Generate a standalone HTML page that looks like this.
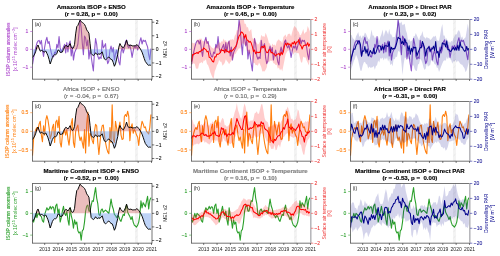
<!DOCTYPE html><html><head><meta charset="utf-8"><title>ISOP anomalies</title>
<style>html,body{margin:0;padding:0;background:#fff;overflow:hidden}svg{display:block;will-change:transform;opacity:0.999}text{font-family:'Liberation Sans', Arial, sans-serif}</style></head><body>
<svg width="500" height="256" viewBox="0 0 500 256">
<rect width="500" height="256" fill="#fff"/>
<g>
<clipPath id="c1"><rect x="32.50" y="19.50" width="119.50" height="59.70"/></clipPath>
<g clip-path="url(#c1)">
<rect x="135.00" y="19.50" width="2.9" height="59.70" fill="#f3f3f3"/>
<path d="M135.50 24.00l1.9 -2.6M135.50 30.30l1.9 -2.6M135.50 36.60l1.9 -2.6M135.50 42.90l1.9 -2.6M135.50 49.20l1.9 -2.6M135.50 55.50l1.9 -2.6M135.50 61.80l1.9 -2.6M135.50 68.10l1.9 -2.6M135.50 74.40l1.9 -2.6M135.50 80.70l1.9 -2.6" stroke="#e6e6e6" stroke-width="0.7" fill="none"/>
<path d="M32.50 64.36L33.61 57.93L34.71 52.03L35.82 47.03L36.93 43.09L38.03 40.95L39.14 40.41L40.25 43.99L41.35 40.41L42.46 50.06L43.56 56.50L44.67 47.03L45.78 40.95L46.88 37.37L47.99 43.45L49.10 41.49L50.20 47.92L51.31 52.92L52.42 56.50L53.52 57.04L54.63 52.03L55.74 53.46L56.84 44.35L57.95 47.92L59.06 36.48L60.16 47.92L61.27 52.39L62.38 49.53L63.48 47.03L64.59 44.35L65.69 52.92L66.80 42.56L67.91 52.03L69.01 43.99L70.12 40.95L71.23 55.96L72.33 47.03L73.44 60.07L74.55 52.92L75.65 50.06L76.76 47.92L77.87 43.99L78.97 33.26L80.08 19.68L81.19 27.90L82.29 43.09L83.40 54.71L84.51 35.94L85.61 38.09L86.72 45.95L87.83 40.06L88.93 59.00L90.04 50.06L91.14 55.96L92.25 64.01L93.36 70.98L94.46 52.03L95.57 38.63L96.68 43.99L97.78 55.96L98.89 59.18L100.00 57.04L101.10 58.47L102.21 40.41L103.32 47.92L104.42 45.95L105.53 43.63L106.64 57.93L107.74 63.65L108.85 60.97L109.95 50.06L111.06 46.13L112.17 52.03L113.27 47.56L114.38 60.07L115.49 54.00L116.59 50.06L117.70 55.07L118.81 61.86L119.91 64.90L121.02 52.03L122.13 47.03L123.23 52.92L124.34 48.99L125.45 42.02L126.55 39.88L127.66 45.95L128.77 47.92L129.87 45.06L130.98 50.06L132.09 57.39L133.19 51.14L134.30 45.95L135.40 47.92L136.51 45.42L137.62 50.06L138.72 45.95L139.83 41.31L140.94 37.73L142.04 43.99L143.15 40.06L144.26 41.31L145.36 40.41L146.47 43.99L147.58 46.85L148.68 54.71L149.79 59.72L150.90 48.64" fill="none" stroke="#9058cc" stroke-width="1.1" stroke-linejoin="round"/>
<path d="M32.50 49.35L33.61 49.35L34.71 49.35L35.82 49.35L36.93 46.84L38.03 44.98L39.14 48.17L40.25 49.35L41.35 49.35L42.46 49.35L43.56 49.35L44.67 49.35L45.78 49.35L46.88 49.35L47.99 49.35L49.10 49.35L50.20 49.35L51.31 49.35L52.42 49.35L53.52 49.35L54.63 49.35L55.74 49.35L56.84 49.35L57.95 49.35L59.06 49.35L60.16 49.35L61.27 49.35L62.38 49.35L63.48 49.35L64.59 46.97L65.69 45.36L66.80 45.77L67.91 47.04L69.01 45.35L70.12 43.65L71.23 46.79L72.33 48.43L73.44 47.84L74.55 44.34L75.65 33.88L76.76 26.58L77.87 25.45L78.97 22.79L80.08 20.15L81.19 21.69L82.29 22.45L83.40 23.30L84.51 24.38L85.61 26.65L86.72 29.90L87.83 31.47L88.93 33.17L90.04 43.31L91.14 49.35L92.25 49.35L93.36 49.35L94.46 49.35L95.57 49.35L96.68 49.35L97.78 49.35L98.89 49.35L100.00 49.35L101.10 49.35L102.21 49.35L103.32 49.35L104.42 49.35L105.53 49.35L106.64 49.35L107.74 49.35L108.85 49.35L109.95 49.35L111.06 49.35L112.17 49.35L113.27 49.35L114.38 49.35L115.49 49.35L116.59 49.35L117.70 49.35L118.81 47.24L119.91 43.51L121.02 45.66L122.13 46.99L123.23 47.83L124.34 46.24L125.45 43.81L126.55 40.12L127.66 43.92L128.77 45.55L129.87 45.31L130.98 45.08L132.09 45.87L133.19 45.92L134.30 45.73L135.40 46.09L136.51 44.63L137.62 45.14L138.72 46.50L139.83 48.05L140.94 49.35L142.04 49.35L143.15 49.35L144.26 49.35L145.36 49.35L146.47 49.35L147.58 49.35L148.68 49.35L149.79 49.35L150.90 49.35L150.90 49.35L32.50 49.35Z" fill="#cd5c5c" fill-opacity="0.4"/>
<path d="M32.50 57.63L33.61 55.86L34.71 54.10L35.82 51.19L36.93 49.35L38.03 49.35L39.14 49.35L40.25 51.25L41.35 50.44L42.46 50.67L43.56 51.96L44.67 51.91L45.78 50.98L46.88 53.24L47.99 55.79L49.10 59.53L50.20 64.00L51.31 60.88L52.42 57.44L53.52 55.57L54.63 54.67L55.74 54.73L56.84 53.70L57.95 50.11L59.06 50.19L60.16 52.45L61.27 52.26L62.38 52.06L63.48 49.35L64.59 49.35L65.69 49.35L66.80 49.35L67.91 49.35L69.01 49.35L70.12 49.35L71.23 49.35L72.33 49.35L73.44 49.35L74.55 49.35L75.65 49.35L76.76 49.35L77.87 49.35L78.97 49.35L80.08 49.35L81.19 49.35L82.29 49.35L83.40 49.35L84.51 49.35L85.61 49.35L86.72 49.35L87.83 49.35L88.93 49.35L90.04 49.35L91.14 53.42L92.25 54.78L93.36 55.55L94.46 54.69L95.57 52.74L96.68 54.28L97.78 54.52L98.89 53.63L100.00 54.40L101.10 52.97L102.21 51.80L103.32 56.05L104.42 59.00L105.53 59.92L106.64 58.80L107.74 57.75L108.85 56.96L109.95 58.39L111.06 59.41L112.17 59.81L113.27 62.55L114.38 66.28L115.49 63.94L116.59 59.16L117.70 54.77L118.81 49.35L119.91 49.35L121.02 49.35L122.13 49.35L123.23 49.35L124.34 49.35L125.45 49.35L126.55 49.35L127.66 49.35L128.77 49.35L129.87 49.35L130.98 49.35L132.09 49.35L133.19 49.35L134.30 49.35L135.40 49.35L136.51 49.35L137.62 49.35L138.72 49.35L139.83 49.35L140.94 49.96L142.04 52.11L143.15 55.24L144.26 58.62L145.36 61.59L146.47 63.02L147.58 64.63L148.68 65.34L149.79 65.02L150.90 65.29L150.90 49.35L32.50 49.35Z" fill="#6495ed" fill-opacity="0.42"/>
<path d="M32.50 57.63L33.61 55.86L34.71 54.10L35.82 51.19L36.93 46.84L38.03 44.98L39.14 48.17L40.25 51.25L41.35 50.44L42.46 50.67L43.56 51.96L44.67 51.91L45.78 50.98L46.88 53.24L47.99 55.79L49.10 59.53L50.20 64.00L51.31 60.88L52.42 57.44L53.52 55.57L54.63 54.67L55.74 54.73L56.84 53.70L57.95 50.11L59.06 50.19L60.16 52.45L61.27 52.26L62.38 52.06L63.48 49.35L64.59 46.97L65.69 45.36L66.80 45.77L67.91 47.04L69.01 45.35L70.12 43.65L71.23 46.79L72.33 48.43L73.44 47.84L74.55 44.34L75.65 33.88L76.76 26.58L77.87 25.45L78.97 22.79L80.08 20.15L81.19 21.69L82.29 22.45L83.40 23.30L84.51 24.38L85.61 26.65L86.72 29.90L87.83 31.47L88.93 33.17L90.04 43.31L91.14 53.42L92.25 54.78L93.36 55.55L94.46 54.69L95.57 52.74L96.68 54.28L97.78 54.52L98.89 53.63L100.00 54.40L101.10 52.97L102.21 51.80L103.32 56.05L104.42 59.00L105.53 59.92L106.64 58.80L107.74 57.75L108.85 56.96L109.95 58.39L111.06 59.41L112.17 59.81L113.27 62.55L114.38 66.28L115.49 63.94L116.59 59.16L117.70 54.77L118.81 47.24L119.91 43.51L121.02 45.66L122.13 46.99L123.23 47.83L124.34 46.24L125.45 43.81L126.55 40.12L127.66 43.92L128.77 45.55L129.87 45.31L130.98 45.08L132.09 45.87L133.19 45.92L134.30 45.73L135.40 46.09L136.51 44.63L137.62 45.14L138.72 46.50L139.83 48.05L140.94 49.96L142.04 52.11L143.15 55.24L144.26 58.62L145.36 61.59L146.47 63.02L147.58 64.63L148.68 65.34L149.79 65.02L150.90 65.29" fill="none" stroke="#000" stroke-width="0.95" stroke-linejoin="round"/>
</g>
<path d="M32.50 19.20V79.50" stroke="#000" stroke-width="0.55" fill="none"/>
<path d="M32.50 19.50H152.00" stroke="#000" stroke-width="0.55" fill="none"/>
<path d="M32.50 79.20H152.00" stroke="#000" stroke-width="0.55" fill="none"/>
<path d="M152.00 19.20V79.50" stroke="#000" stroke-width="0.55" fill="none"/>
<path d="M44.70 79.20v1.8" stroke="#000" stroke-width="0.5"/>
<path d="M58.05 79.20v1.8" stroke="#000" stroke-width="0.5"/>
<path d="M71.40 79.20v1.8" stroke="#000" stroke-width="0.5"/>
<path d="M84.75 79.20v1.8" stroke="#000" stroke-width="0.5"/>
<path d="M98.10 79.20v1.8" stroke="#000" stroke-width="0.5"/>
<path d="M111.45 79.20v1.8" stroke="#000" stroke-width="0.5"/>
<path d="M124.80 79.20v1.8" stroke="#000" stroke-width="0.5"/>
<path d="M138.15 79.20v1.8" stroke="#000" stroke-width="0.5"/>
<path d="M151.50 79.20v1.8" stroke="#000" stroke-width="0.5"/>
<path d="M32.50 31.48h-2.3" stroke="#ab45cc" stroke-width="0.55"/>
<text x="28.40" y="33.28" font-size="5" text-anchor="end" fill="#ab45cc" stroke="#ab45cc" stroke-width="0.1">1</text>
<path d="M32.50 49.35h-2.3" stroke="#ab45cc" stroke-width="0.55"/>
<text x="28.40" y="51.15" font-size="5" text-anchor="end" fill="#ab45cc" stroke="#ab45cc" stroke-width="0.1">0</text>
<path d="M32.50 67.22h-2.3" stroke="#ab45cc" stroke-width="0.55"/>
<text x="28.40" y="69.02" font-size="5" text-anchor="end" fill="#ab45cc" stroke="#ab45cc" stroke-width="0.1">−1</text>
<path d="M152.00 22.21h2.3" stroke="#000" stroke-width="0.55"/>
<text x="155.80" y="24.01" font-size="5" text-anchor="start" fill="#000" stroke="#000" stroke-width="0.08">2</text>
<path d="M152.00 35.78h2.3" stroke="#000" stroke-width="0.55"/>
<text x="155.80" y="37.58" font-size="5" text-anchor="start" fill="#000" stroke="#000" stroke-width="0.08">1</text>
<path d="M152.00 49.35h2.3" stroke="#000" stroke-width="0.55"/>
<text x="155.80" y="51.15" font-size="5" text-anchor="start" fill="#000" stroke="#000" stroke-width="0.08">0</text>
<path d="M152.00 62.92h2.3" stroke="#000" stroke-width="0.55"/>
<text x="155.80" y="64.72" font-size="5" text-anchor="start" fill="#000" stroke="#000" stroke-width="0.08">−1</text>
<path d="M152.00 76.49h2.3" stroke="#000" stroke-width="0.55"/>
<text x="155.80" y="78.29" font-size="5" text-anchor="start" fill="#000" stroke="#000" stroke-width="0.08">−2</text>
<text transform="translate(166.90 49.35) rotate(-90)" font-size="5" text-anchor="middle" fill="#111">MEI. v2</text>
<text transform="translate(9.80 49.35) rotate(-90)" font-size="5" text-anchor="middle" fill="#ab45cc" stroke="#ab45cc" stroke-width="0.1">ISOP column anomalies</text>
<text transform="translate(17.30 49.35) rotate(-90)" font-size="5" text-anchor="middle" fill="#ab45cc">[x 10<tspan dy="-2" font-size="3.9">15</tspan><tspan dy="2"> molec cm</tspan><tspan dy="-2" font-size="3.9">−2</tspan><tspan dy="2">]</tspan></text>
<text x="34.70" y="26.10" font-size="5" fill="#222">(a)</text>
<text x="91.25" y="9.40" font-size="6.1" font-weight="bold" text-anchor="middle" fill="#000" stroke="#000" stroke-width="0.15">Amazonia ISOP + ENSO</text>
<text x="91.25" y="16.30" font-size="6.1" font-weight="bold" text-anchor="middle" fill="#000" stroke="#000" stroke-width="0.15" xml:space="preserve">(r = 0.28, p =  0.00)</text>
</g>
<g>
<clipPath id="c2"><rect x="191.50" y="19.50" width="119.50" height="59.70"/></clipPath>
<g clip-path="url(#c2)">
<rect x="294.00" y="19.50" width="2.9" height="59.70" fill="#f3f3f3"/>
<path d="M294.50 24.00l1.9 -2.6M294.50 30.30l1.9 -2.6M294.50 36.60l1.9 -2.6M294.50 42.90l1.9 -2.6M294.50 49.20l1.9 -2.6M294.50 55.50l1.9 -2.6M294.50 61.80l1.9 -2.6M294.50 68.10l1.9 -2.6M294.50 74.40l1.9 -2.6M294.50 80.70l1.9 -2.6" stroke="#e6e6e6" stroke-width="0.7" fill="none"/>
<path d="M191.50 64.36L192.61 57.93L193.71 52.03L194.82 47.03L195.93 43.09L197.03 40.95L198.14 40.41L199.25 43.99L200.35 40.41L201.46 50.06L202.56 56.50L203.67 47.03L204.78 40.95L205.88 37.37L206.99 43.45L208.10 41.49L209.20 47.92L210.31 52.92L211.42 56.50L212.52 57.04L213.63 52.03L214.74 53.46L215.84 44.35L216.95 47.92L218.06 36.48L219.16 47.92L220.27 52.39L221.38 49.53L222.48 47.03L223.59 44.35L224.69 52.92L225.80 42.56L226.91 52.03L228.01 43.99L229.12 40.95L230.23 55.96L231.33 47.03L232.44 60.07L233.55 52.92L234.65 50.06L235.76 47.92L236.87 43.99L237.97 33.26L239.08 19.68L240.19 27.90L241.29 43.09L242.40 54.71L243.51 35.94L244.61 38.09L245.72 45.95L246.82 40.06L247.93 59.00L249.04 50.06L250.14 55.96L251.25 64.01L252.36 70.98L253.46 52.03L254.57 38.63L255.68 43.99L256.78 55.96L257.89 59.18L259.00 57.04L260.10 58.47L261.21 40.41L262.32 47.92L263.42 45.95L264.53 43.63L265.64 57.93L266.74 63.65L267.85 60.97L268.95 50.06L270.06 46.13L271.17 52.03L272.27 47.56L273.38 60.07L274.49 54.00L275.59 50.06L276.70 55.07L277.81 61.86L278.91 64.90L280.02 52.03L281.13 47.03L282.23 52.92L283.34 48.99L284.45 42.02L285.55 39.88L286.66 45.95L287.77 47.92L288.87 45.06L289.98 50.06L291.09 57.39L292.19 51.14L293.30 45.95L294.40 47.92L295.51 45.42L296.62 50.06L297.72 45.95L298.83 41.31L299.94 37.73L301.04 43.99L302.15 40.06L303.26 41.31L304.36 40.41L305.47 43.99L306.58 46.85L307.68 54.71L308.79 59.72L309.90 48.64" fill="none" stroke="#9058cc" stroke-width="1.1" stroke-linejoin="round"/>
<path d="M191.50 43.10L192.61 42.41L193.71 43.58L194.82 42.82L195.93 45.08L197.03 39.16L198.14 40.15L199.25 38.85L200.35 38.78L201.46 38.60L202.56 41.18L203.67 40.96L204.78 41.71L205.88 38.27L206.99 40.80L208.10 41.76L209.20 45.11L210.31 45.51L211.42 47.24L212.52 47.95L213.63 48.76L214.74 47.23L215.84 46.65L216.95 45.19L218.06 44.33L219.16 41.98L220.27 43.29L221.38 41.20L222.48 41.84L223.59 38.57L224.69 40.95L225.80 40.15L226.91 42.37L228.01 41.87L229.12 40.95L230.23 39.62L231.33 39.86L232.44 39.03L233.55 40.31L234.65 35.95L235.76 34.19L236.87 29.90L237.97 30.54L239.08 22.94L240.19 20.31L241.29 17.34L242.40 16.79L243.51 18.03L244.61 23.68L245.72 23.82L246.82 27.51L247.93 27.07L249.04 31.66L250.14 30.16L251.25 29.04L252.36 38.01L253.46 38.96L254.57 37.13L255.68 41.39L256.78 42.83L257.89 44.77L259.00 43.45L260.10 41.19L261.21 34.64L262.32 36.57L263.42 36.19L264.53 36.97L265.64 32.65L266.74 35.48L267.85 38.80L268.95 43.14L270.06 43.48L271.17 47.68L272.27 43.41L273.38 45.31L274.49 44.46L275.59 45.97L276.70 41.74L277.81 40.22L278.91 39.15L280.02 40.97L281.13 41.30L282.23 43.51L283.34 36.90L284.45 35.71L285.55 34.51L286.66 37.60L287.77 34.28L288.87 33.83L289.98 33.72L291.09 36.45L292.19 32.05L293.30 28.36L294.40 25.91L295.51 26.91L296.62 28.56L297.72 30.95L298.83 32.06L299.94 35.51L301.04 34.80L302.15 32.20L303.26 28.98L304.36 34.11L305.47 32.13L306.58 31.66L307.68 25.90L308.79 28.46L309.90 31.67L309.90 57.52L308.79 65.39L307.68 62.85L306.58 60.42L305.47 57.36L304.36 57.44L303.26 56.60L302.15 62.48L301.04 62.51L299.94 58.07L298.83 53.27L297.72 53.18L296.62 52.72L295.51 52.54L294.40 52.52L293.30 54.70L292.19 51.05L291.09 51.82L289.98 49.54L288.87 50.41L287.77 50.64L286.66 52.53L285.55 54.65L284.45 60.55L283.34 66.09L282.23 71.49L281.13 68.51L280.02 70.46L278.91 67.58L277.81 68.71L276.70 64.66L275.59 64.93L274.49 63.40L273.38 63.20L272.27 60.25L271.17 60.88L270.06 60.51L268.95 62.82L267.85 61.15L266.74 67.52L265.64 69.82L264.53 71.57L263.42 71.32L262.32 71.53L261.21 67.11L260.10 64.38L259.00 62.57L257.89 65.69L256.78 65.01L255.68 65.17L254.57 62.91L253.46 63.19L252.36 59.63L251.25 54.37L250.14 53.07L249.04 53.21L247.93 51.08L246.82 50.56L245.72 44.79L244.61 45.12L243.51 43.44L242.40 43.30L241.29 45.30L240.19 48.89L239.08 47.96L237.97 49.99L236.87 51.22L235.76 53.78L234.65 54.01L233.55 57.28L232.44 58.93L231.33 61.07L230.23 62.23L229.12 64.21L228.01 62.14L226.91 60.98L225.80 59.33L224.69 62.89L223.59 64.41L222.48 65.87L221.38 61.81L220.27 61.82L219.16 59.83L218.06 63.48L216.95 65.24L215.84 68.83L214.74 71.55L213.63 78.76L212.52 77.59L211.42 74.90L210.31 72.36L209.20 68.35L208.10 65.24L206.99 64.06L205.88 59.30L204.78 60.87L203.67 60.59L202.56 63.39L201.46 61.96L200.35 62.89L199.25 63.60L198.14 68.55L197.03 68.68L195.93 68.56L194.82 64.01L193.71 63.19L192.61 64.03L191.50 64.97Z" fill="#ff0000" fill-opacity="0.20"/>
<path d="M191.50 61.76L192.61 54.51L193.71 54.65L194.82 53.36L195.93 53.40L197.03 52.32L198.14 53.55L199.25 51.57L200.35 51.86L201.46 49.94L202.56 50.27L203.67 47.91L204.78 48.90L205.88 49.58L206.99 51.89L208.10 51.13L209.20 57.33L210.31 57.74L211.42 59.45L212.52 61.61L213.63 62.04L214.74 56.77L215.84 57.01L216.95 53.94L218.06 54.43L219.16 53.66L220.27 52.71L221.38 49.48L222.48 50.54L223.59 50.28L224.69 52.49L225.80 49.19L226.91 51.60L228.01 51.30L229.12 52.78L230.23 50.32L231.33 51.42L232.44 50.28L233.55 49.25L234.65 47.69L235.76 46.60L236.87 43.41L237.97 39.64L239.08 35.96L240.19 34.57L241.29 32.03L242.40 32.45L243.51 34.25L244.61 38.03L245.72 34.60L246.82 39.90L247.93 40.30L249.04 42.37L250.14 41.40L251.25 43.08L252.36 46.69L253.46 51.59L254.57 50.03L255.68 53.78L256.78 51.85L257.89 52.67L259.00 52.19L260.10 52.39L261.21 47.01L262.32 46.46L263.42 47.62L264.53 45.49L265.64 50.39L266.74 52.62L267.85 52.53L268.95 49.91L270.06 49.58L271.17 52.87L272.27 52.32L273.38 53.95L274.49 53.93L275.59 55.95L276.70 54.22L277.81 54.34L278.91 53.30L280.02 55.53L281.13 52.05L282.23 54.63L283.34 51.82L284.45 46.08L285.55 43.11L286.66 45.34L287.77 42.99L288.87 44.69L289.98 43.85L291.09 47.19L292.19 42.69L293.30 43.92L294.40 41.41L295.51 44.48L296.62 41.92L297.72 41.97L298.83 39.63L299.94 44.60L301.04 45.88L302.15 48.99L303.26 45.96L304.36 45.31L305.47 44.99L306.58 45.26L307.68 42.73L308.79 46.22L309.90 43.80" fill="none" stroke="#ff0000" stroke-width="1.05" stroke-linejoin="round"/>
</g>
<path d="M191.50 19.20V79.50" stroke="#000" stroke-width="0.55" fill="none"/>
<path d="M191.50 19.50H311.00" stroke="#000" stroke-width="0.55" fill="none"/>
<path d="M191.50 79.20H311.00" stroke="#000" stroke-width="0.55" fill="none"/>
<path d="M310.80 19.20V79.50" stroke="#b4b4b8" stroke-width="1.5" fill="none"/>
<path d="M203.70 79.20v1.8" stroke="#000" stroke-width="0.5"/>
<path d="M217.05 79.20v1.8" stroke="#000" stroke-width="0.5"/>
<path d="M230.40 79.20v1.8" stroke="#000" stroke-width="0.5"/>
<path d="M243.75 79.20v1.8" stroke="#000" stroke-width="0.5"/>
<path d="M257.10 79.20v1.8" stroke="#000" stroke-width="0.5"/>
<path d="M270.45 79.20v1.8" stroke="#000" stroke-width="0.5"/>
<path d="M283.80 79.20v1.8" stroke="#000" stroke-width="0.5"/>
<path d="M297.15 79.20v1.8" stroke="#000" stroke-width="0.5"/>
<path d="M310.50 79.20v1.8" stroke="#000" stroke-width="0.5"/>
<path d="M191.50 31.48h-2.3" stroke="#ab45cc" stroke-width="0.55"/>
<text x="187.40" y="33.28" font-size="5" text-anchor="end" fill="#ab45cc" stroke="#ab45cc" stroke-width="0.1">1</text>
<path d="M191.50 49.35h-2.3" stroke="#ab45cc" stroke-width="0.55"/>
<text x="187.40" y="51.15" font-size="5" text-anchor="end" fill="#ab45cc" stroke="#ab45cc" stroke-width="0.1">0</text>
<path d="M191.50 67.22h-2.3" stroke="#ab45cc" stroke-width="0.55"/>
<text x="187.40" y="69.02" font-size="5" text-anchor="end" fill="#ab45cc" stroke="#ab45cc" stroke-width="0.1">−1</text>
<path d="M311.00 19.50h2.3" stroke="#ee3333" stroke-width="0.55"/>
<text x="314.40" y="21.30" font-size="5" text-anchor="start" fill="#ee3333" stroke="#ee3333" stroke-width="0.08">2</text>
<path d="M311.00 34.42h2.3" stroke="#ee3333" stroke-width="0.55"/>
<text x="314.40" y="36.22" font-size="5" text-anchor="start" fill="#ee3333" stroke="#ee3333" stroke-width="0.08">1</text>
<path d="M311.00 49.35h2.3" stroke="#ee3333" stroke-width="0.55"/>
<text x="314.40" y="51.15" font-size="5" text-anchor="start" fill="#ee3333" stroke="#ee3333" stroke-width="0.08">0</text>
<path d="M311.00 64.28h2.3" stroke="#ee3333" stroke-width="0.55"/>
<text x="314.40" y="66.08" font-size="5" text-anchor="start" fill="#ee3333" stroke="#ee3333" stroke-width="0.08">−1</text>
<path d="M311.00 79.20h2.3" stroke="#ee3333" stroke-width="0.55"/>
<text x="314.40" y="81.00" font-size="5" text-anchor="start" fill="#ee3333" stroke="#ee3333" stroke-width="0.08">−2</text>
<text transform="translate(326.30 49.35) rotate(-90)" font-size="5" text-anchor="middle" fill="#ee3333">Surface air temperature</text>
<text transform="translate(330.70 49.35) rotate(-90)" font-size="5" text-anchor="middle" fill="#ee3333">[K]</text>
<text x="193.70" y="26.10" font-size="5" fill="#222">(b)</text>
<text x="250.35" y="9.40" font-size="6.1" font-weight="bold" text-anchor="middle" fill="#000" stroke="#000" stroke-width="0.15">Amazonia ISOP + Temperature</text>
<text x="250.35" y="16.30" font-size="6.1" font-weight="bold" text-anchor="middle" fill="#000" stroke="#000" stroke-width="0.15" xml:space="preserve">(r = 0.45, p =  0.00)</text>
</g>
<g>
<clipPath id="c3"><rect x="350.50" y="19.50" width="119.50" height="59.70"/></clipPath>
<g clip-path="url(#c3)">
<rect x="453.00" y="19.50" width="2.9" height="59.70" fill="#f3f3f3"/>
<path d="M453.50 24.00l1.9 -2.6M453.50 30.30l1.9 -2.6M453.50 36.60l1.9 -2.6M453.50 42.90l1.9 -2.6M453.50 49.20l1.9 -2.6M453.50 55.50l1.9 -2.6M453.50 61.80l1.9 -2.6M453.50 68.10l1.9 -2.6M453.50 74.40l1.9 -2.6M453.50 80.70l1.9 -2.6" stroke="#e6e6e6" stroke-width="0.7" fill="none"/>
<path d="M350.50 64.36L351.61 57.93L352.71 52.03L353.82 47.03L354.93 43.09L356.03 40.95L357.14 40.41L358.25 43.99L359.35 40.41L360.46 50.06L361.56 56.50L362.67 47.03L363.78 40.95L364.88 37.37L365.99 43.45L367.10 41.49L368.20 47.92L369.31 52.92L370.42 56.50L371.52 57.04L372.63 52.03L373.74 53.46L374.84 44.35L375.95 47.92L377.06 36.48L378.16 47.92L379.27 52.39L380.38 49.53L381.48 47.03L382.59 44.35L383.69 52.92L384.80 42.56L385.91 52.03L387.01 43.99L388.12 40.95L389.23 55.96L390.33 47.03L391.44 60.07L392.55 52.92L393.65 50.06L394.76 47.92L395.87 43.99L396.97 33.26L398.08 19.68L399.19 27.90L400.29 43.09L401.40 54.71L402.51 35.94L403.61 38.09L404.72 45.95L405.82 40.06L406.93 59.00L408.04 50.06L409.14 55.96L410.25 64.01L411.36 70.98L412.46 52.03L413.57 38.63L414.68 43.99L415.78 55.96L416.89 59.18L418.00 57.04L419.10 58.47L420.21 40.41L421.32 47.92L422.42 45.95L423.53 43.63L424.64 57.93L425.74 63.65L426.85 60.97L427.95 50.06L429.06 46.13L430.17 52.03L431.27 47.56L432.38 60.07L433.49 54.00L434.59 50.06L435.70 55.07L436.81 61.86L437.91 64.90L439.02 52.03L440.13 47.03L441.23 52.92L442.34 48.99L443.45 42.02L444.55 39.88L445.66 45.95L446.77 47.92L447.87 45.06L448.98 50.06L450.09 57.39L451.19 51.14L452.30 45.95L453.40 47.92L454.51 45.42L455.62 50.06L456.72 45.95L457.83 41.31L458.94 37.73L460.04 43.99L461.15 40.06L462.26 41.31L463.36 40.41L464.47 43.99L465.58 46.85L466.68 54.71L467.79 59.72L468.90 48.64" fill="none" stroke="#9058cc" stroke-width="1.1" stroke-linejoin="round"/>
<path d="M350.50 34.82L351.61 35.12L352.71 38.25L353.82 38.94L354.93 40.80L356.03 36.33L357.14 34.27L358.25 32.00L359.35 37.02L360.46 35.26L361.56 38.62L362.67 35.48L363.78 36.10L364.88 32.56L365.99 33.66L367.10 36.49L368.20 38.83L369.31 40.12L370.42 35.98L371.52 29.39L372.63 35.59L373.74 35.46L374.84 38.29L375.95 37.05L377.06 40.32L378.16 36.80L379.27 41.02L380.38 36.71L381.48 33.99L382.59 29.45L383.69 36.67L384.80 32.54L385.91 29.65L387.01 31.64L388.12 34.41L389.23 28.83L390.33 34.28L391.44 34.50L392.55 37.51L393.65 36.88L394.76 36.96L395.87 32.19L396.97 27.56L398.08 20.11L399.19 22.51L400.29 23.30L401.40 21.47L402.51 25.21L403.61 24.38L404.72 23.70L405.82 30.13L406.93 33.26L408.04 40.61L409.14 39.01L410.25 41.62L411.36 41.11L412.46 40.09L413.57 36.21L414.68 36.23L415.78 33.01L416.89 35.40L418.00 37.94L419.10 40.45L420.21 35.99L421.32 34.91L422.42 31.05L423.53 36.43L424.64 37.42L425.74 38.76L426.85 36.70L427.95 38.33L429.06 38.08L430.17 40.12L431.27 39.20L432.38 37.82L433.49 36.14L434.59 36.65L435.70 35.39L436.81 40.01L437.91 40.68L439.02 40.80L440.13 35.33L441.23 28.57L442.34 24.08L443.45 35.49L444.55 35.39L445.66 39.25L446.77 38.29L447.87 42.53L448.98 41.02L450.09 42.96L451.19 40.82L452.30 41.72L453.40 38.16L454.51 36.14L455.62 34.58L456.72 34.23L457.83 31.17L458.94 29.89L460.04 32.50L461.15 38.02L462.26 36.23L463.36 39.72L464.47 38.20L465.58 37.30L466.68 30.70L467.79 23.62L468.90 30.20L468.90 61.96L467.79 66.35L466.68 70.35L465.58 72.36L464.47 68.37L463.36 66.87L462.26 64.68L461.15 64.39L460.04 63.48L458.94 61.82L457.83 60.38L456.72 62.38L455.62 59.64L454.51 61.70L453.40 60.93L452.30 63.68L451.19 60.07L450.09 58.91L448.98 56.85L447.87 59.21L446.77 57.01L445.66 60.75L444.55 60.30L443.45 61.07L442.34 63.41L441.23 66.35L440.13 69.14L439.02 72.03L437.91 67.77L436.81 67.79L435.70 64.59L434.59 64.21L433.49 61.52L432.38 61.77L431.27 59.81L430.17 65.21L429.06 65.58L427.95 66.76L426.85 62.66L425.74 68.62L424.64 70.06L423.53 67.72L422.42 63.25L421.32 60.25L420.21 59.06L419.10 63.75L418.00 64.41L416.89 70.95L415.78 70.87L414.68 69.15L413.57 65.36L412.46 65.84L411.36 62.29L410.25 60.10L409.14 58.91L408.04 58.82L406.93 56.39L405.82 58.04L404.72 57.62L403.61 64.18L402.51 75.20L401.40 62.63L400.29 52.89L399.19 51.26L398.08 51.32L396.97 57.23L395.87 56.49L394.76 59.24L393.65 59.04L392.55 66.22L391.44 63.53L390.33 65.24L389.23 58.77L388.12 61.52L387.01 57.31L385.91 59.51L384.80 57.40L383.69 60.50L382.59 57.58L381.48 58.72L380.38 58.10L379.27 62.59L378.16 60.47L377.06 65.20L375.95 65.94L374.84 69.76L373.74 66.02L372.63 67.33L371.52 67.40L370.42 67.86L369.31 66.62L368.20 68.47L367.10 64.51L365.99 64.05L364.88 61.80L363.78 62.49L362.67 65.72L361.56 70.65L360.46 70.82L359.35 65.83L358.25 60.44L357.14 57.31L356.03 54.66L354.93 58.68L353.82 60.94L352.71 64.91L351.61 67.88L350.50 72.39Z" fill="#00008b" fill-opacity="0.17"/>
<path d="M350.50 61.73L351.61 56.67L352.71 52.82L353.82 48.95L354.93 49.27L356.03 45.28L357.14 43.75L358.25 40.88L359.35 41.49L360.46 44.71L361.56 56.09L362.67 50.72L363.78 51.27L364.88 46.49L365.99 53.15L367.10 49.06L368.20 56.00L369.31 53.43L370.42 50.58L371.52 52.90L372.63 53.39L373.74 48.10L374.84 54.03L375.95 52.64L377.06 49.03L378.16 45.64L379.27 45.89L380.38 46.03L381.48 50.05L382.59 46.34L383.69 49.70L384.80 45.65L385.91 45.84L387.01 46.03L388.12 46.42L389.23 41.84L390.33 52.73L391.44 47.29L392.55 49.25L393.65 48.39L394.76 48.77L395.87 46.00L396.97 41.82L398.08 37.18L399.19 38.47L400.29 38.59L401.40 43.51L402.51 41.40L403.61 44.58L404.72 38.68L405.82 42.47L406.93 43.05L408.04 51.00L409.14 45.80L410.25 54.30L411.36 48.37L412.46 51.84L413.57 46.92L414.68 47.98L415.78 47.31L416.89 56.12L418.00 52.78L419.10 50.12L420.21 47.62L421.32 47.38L422.42 41.46L423.53 44.82L424.64 48.22L425.74 56.23L426.85 49.00L427.95 47.82L429.06 46.71L430.17 51.29L431.27 49.10L432.38 49.02L433.49 46.14L434.59 50.52L435.70 41.49L436.81 53.09L437.91 51.34L439.02 57.47L440.13 50.87L441.23 49.37L442.34 42.75L443.45 43.88L444.55 43.67L445.66 46.79L446.77 40.88L447.87 49.69L448.98 49.40L450.09 51.44L451.19 50.94L452.30 49.13L453.40 47.59L454.51 50.04L455.62 47.36L456.72 50.15L457.83 45.10L458.94 50.44L460.04 42.38L461.15 47.21L462.26 46.96L463.36 49.54L464.47 51.16L465.58 50.84L466.68 46.44L467.79 50.16L468.90 48.28" fill="none" stroke="#00008b" stroke-width="1.05" stroke-linejoin="round"/>
</g>
<path d="M350.50 19.20V79.50" stroke="#000" stroke-width="0.55" fill="none"/>
<path d="M350.50 19.50H470.00" stroke="#000" stroke-width="0.55" fill="none"/>
<path d="M350.50 79.20H470.00" stroke="#000" stroke-width="0.55" fill="none"/>
<path d="M469.80 19.20V79.50" stroke="#b4b4b8" stroke-width="1.5" fill="none"/>
<path d="M362.70 79.20v1.8" stroke="#000" stroke-width="0.5"/>
<path d="M376.05 79.20v1.8" stroke="#000" stroke-width="0.5"/>
<path d="M389.40 79.20v1.8" stroke="#000" stroke-width="0.5"/>
<path d="M402.75 79.20v1.8" stroke="#000" stroke-width="0.5"/>
<path d="M416.10 79.20v1.8" stroke="#000" stroke-width="0.5"/>
<path d="M429.45 79.20v1.8" stroke="#000" stroke-width="0.5"/>
<path d="M442.80 79.20v1.8" stroke="#000" stroke-width="0.5"/>
<path d="M456.15 79.20v1.8" stroke="#000" stroke-width="0.5"/>
<path d="M469.50 79.20v1.8" stroke="#000" stroke-width="0.5"/>
<path d="M350.50 31.48h-2.3" stroke="#ab45cc" stroke-width="0.55"/>
<text x="346.40" y="33.28" font-size="5" text-anchor="end" fill="#ab45cc" stroke="#ab45cc" stroke-width="0.1">1</text>
<path d="M350.50 49.35h-2.3" stroke="#ab45cc" stroke-width="0.55"/>
<text x="346.40" y="51.15" font-size="5" text-anchor="end" fill="#ab45cc" stroke="#ab45cc" stroke-width="0.1">0</text>
<path d="M350.50 67.22h-2.3" stroke="#ab45cc" stroke-width="0.55"/>
<text x="346.40" y="69.02" font-size="5" text-anchor="end" fill="#ab45cc" stroke="#ab45cc" stroke-width="0.1">−1</text>
<path d="M470.00 19.50h2.3" stroke="#1a1a96" stroke-width="0.55"/>
<text x="473.80" y="21.30" font-size="5" text-anchor="start" fill="#1a1a96" stroke="#1a1a96" stroke-width="0.08">20</text>
<path d="M470.00 34.42h2.3" stroke="#1a1a96" stroke-width="0.55"/>
<text x="473.80" y="36.22" font-size="5" text-anchor="start" fill="#1a1a96" stroke="#1a1a96" stroke-width="0.08">10</text>
<path d="M470.00 49.35h2.3" stroke="#1a1a96" stroke-width="0.55"/>
<text x="473.80" y="51.15" font-size="5" text-anchor="start" fill="#1a1a96" stroke="#1a1a96" stroke-width="0.08">0</text>
<path d="M470.00 64.28h2.3" stroke="#1a1a96" stroke-width="0.55"/>
<text x="473.80" y="66.08" font-size="5" text-anchor="start" fill="#1a1a96" stroke="#1a1a96" stroke-width="0.08">−10</text>
<path d="M470.00 79.20h2.3" stroke="#1a1a96" stroke-width="0.55"/>
<text x="473.80" y="81.00" font-size="5" text-anchor="start" fill="#1a1a96" stroke="#1a1a96" stroke-width="0.08">−20</text>
<text transform="translate(487.50 49.35) rotate(-90)" font-size="5" text-anchor="middle" fill="#00008b">Downwelling PAR</text>
<text transform="translate(493.60 49.35) rotate(-90)" font-size="5" text-anchor="middle" fill="#00008b">[W m<tspan dy="-2" font-size="3.9">−2</tspan><tspan dy="2">]</tspan></text>
<text x="352.70" y="26.10" font-size="5" fill="#222">(c)</text>
<text x="409.95" y="9.40" font-size="6.1" font-weight="bold" text-anchor="middle" fill="#000" stroke="#000" stroke-width="0.15">Amazonia ISOP + Direct PAR</text>
<text x="409.95" y="16.30" font-size="6.1" font-weight="bold" text-anchor="middle" fill="#000" stroke="#000" stroke-width="0.15" xml:space="preserve">(r = 0.23, p =  0.02)</text>
</g>
<g>
<clipPath id="c4"><rect x="32.50" y="101.50" width="119.50" height="59.70"/></clipPath>
<g clip-path="url(#c4)">
<rect x="135.00" y="101.50" width="2.9" height="59.70" fill="#f3f3f3"/>
<path d="M135.50 106.00l1.9 -2.6M135.50 112.30l1.9 -2.6M135.50 118.60l1.9 -2.6M135.50 124.90l1.9 -2.6M135.50 131.20l1.9 -2.6M135.50 137.50l1.9 -2.6M135.50 143.80l1.9 -2.6M135.50 150.10l1.9 -2.6M135.50 156.40l1.9 -2.6M135.50 162.70l1.9 -2.6" stroke="#e6e6e6" stroke-width="0.7" fill="none"/>
<path d="M32.50 155.60L33.61 138.81L34.71 133.22L35.82 129.48L36.93 127.62L38.03 129.48L39.14 123.89L40.25 121.28L41.35 135.08L42.46 141.80L43.56 125.75L44.67 135.08L45.78 120.16L46.88 115.68L47.99 120.16L49.10 127.62L50.20 138.81L51.31 135.08L52.42 127.62L53.52 124.26L54.63 142.54L55.74 122.02L56.84 120.16L57.95 127.62L59.06 116.42L60.16 142.54L61.27 147.02L62.38 135.08L63.48 133.22L64.59 129.48L65.69 135.08L66.80 129.48L67.91 138.81L69.01 145.16L70.12 135.08L71.23 123.89L72.33 118.66L73.44 142.54L74.55 147.39L75.65 131.35L76.76 127.62L77.87 125.01L78.97 135.08L80.08 140.68L81.19 136.95L82.29 142.54L83.40 148.14L84.51 129.48L85.61 152.99L86.72 123.89L87.83 111.95L88.93 146.28L90.04 133.22L91.14 135.08L92.25 140.68L93.36 143.66L94.46 131.35L95.57 124.26L96.68 125.75L97.78 142.54L98.89 154.48L100.00 142.54L101.10 131.35L102.21 125.75L103.32 125.01L104.42 135.08L105.53 142.54L106.64 148.14L107.74 151.87L108.85 153.74L109.95 127.62L111.06 142.54L112.17 104.86L113.27 138.81L114.38 142.54L115.49 121.28L116.59 127.62L117.70 135.08L118.81 127.62L119.91 122.02L121.02 135.08L122.13 139.56L123.23 138.81L124.34 116.42L125.45 114.56L126.55 116.42L127.66 111.20L128.77 116.42L129.87 140.68L130.98 127.62L132.09 123.89L133.19 133.22L134.30 129.48L135.40 131.35L136.51 135.08L137.62 136.95L138.72 145.53L139.83 135.08L140.94 127.62L142.04 121.28L143.15 123.89L144.26 127.62L145.36 126.87L146.47 131.35L147.58 132.47L148.68 133.96L149.79 127.62L150.90 114.56" fill="none" stroke="#ff7f0e" stroke-width="1.1" stroke-linejoin="round"/>
<path d="M32.50 131.35L33.61 131.35L34.71 131.35L35.82 131.35L36.93 128.84L38.03 126.98L39.14 130.17L40.25 131.35L41.35 131.35L42.46 131.35L43.56 131.35L44.67 131.35L45.78 131.35L46.88 131.35L47.99 131.35L49.10 131.35L50.20 131.35L51.31 131.35L52.42 131.35L53.52 131.35L54.63 131.35L55.74 131.35L56.84 131.35L57.95 131.35L59.06 131.35L60.16 131.35L61.27 131.35L62.38 131.35L63.48 131.35L64.59 128.97L65.69 127.36L66.80 127.77L67.91 129.04L69.01 127.35L70.12 125.65L71.23 128.79L72.33 130.43L73.44 129.84L74.55 126.34L75.65 115.88L76.76 108.58L77.87 107.45L78.97 104.79L80.08 102.15L81.19 103.69L82.29 104.45L83.40 105.30L84.51 106.38L85.61 108.65L86.72 111.90L87.83 113.47L88.93 115.17L90.04 125.31L91.14 131.35L92.25 131.35L93.36 131.35L94.46 131.35L95.57 131.35L96.68 131.35L97.78 131.35L98.89 131.35L100.00 131.35L101.10 131.35L102.21 131.35L103.32 131.35L104.42 131.35L105.53 131.35L106.64 131.35L107.74 131.35L108.85 131.35L109.95 131.35L111.06 131.35L112.17 131.35L113.27 131.35L114.38 131.35L115.49 131.35L116.59 131.35L117.70 131.35L118.81 129.24L119.91 125.51L121.02 127.66L122.13 128.99L123.23 129.83L124.34 128.24L125.45 125.81L126.55 122.12L127.66 125.92L128.77 127.55L129.87 127.31L130.98 127.08L132.09 127.87L133.19 127.92L134.30 127.73L135.40 128.09L136.51 126.63L137.62 127.14L138.72 128.50L139.83 130.05L140.94 131.35L142.04 131.35L143.15 131.35L144.26 131.35L145.36 131.35L146.47 131.35L147.58 131.35L148.68 131.35L149.79 131.35L150.90 131.35L150.90 131.35L32.50 131.35Z" fill="#cd5c5c" fill-opacity="0.4"/>
<path d="M32.50 139.63L33.61 137.86L34.71 136.10L35.82 133.19L36.93 131.35L38.03 131.35L39.14 131.35L40.25 133.25L41.35 132.44L42.46 132.67L43.56 133.96L44.67 133.91L45.78 132.98L46.88 135.24L47.99 137.79L49.10 141.53L50.20 146.00L51.31 142.88L52.42 139.44L53.52 137.57L54.63 136.67L55.74 136.73L56.84 135.70L57.95 132.11L59.06 132.19L60.16 134.45L61.27 134.26L62.38 134.06L63.48 131.35L64.59 131.35L65.69 131.35L66.80 131.35L67.91 131.35L69.01 131.35L70.12 131.35L71.23 131.35L72.33 131.35L73.44 131.35L74.55 131.35L75.65 131.35L76.76 131.35L77.87 131.35L78.97 131.35L80.08 131.35L81.19 131.35L82.29 131.35L83.40 131.35L84.51 131.35L85.61 131.35L86.72 131.35L87.83 131.35L88.93 131.35L90.04 131.35L91.14 135.42L92.25 136.78L93.36 137.55L94.46 136.69L95.57 134.74L96.68 136.28L97.78 136.52L98.89 135.63L100.00 136.40L101.10 134.97L102.21 133.80L103.32 138.05L104.42 141.00L105.53 141.92L106.64 140.80L107.74 139.75L108.85 138.96L109.95 140.39L111.06 141.41L112.17 141.81L113.27 144.55L114.38 148.28L115.49 145.94L116.59 141.16L117.70 136.77L118.81 131.35L119.91 131.35L121.02 131.35L122.13 131.35L123.23 131.35L124.34 131.35L125.45 131.35L126.55 131.35L127.66 131.35L128.77 131.35L129.87 131.35L130.98 131.35L132.09 131.35L133.19 131.35L134.30 131.35L135.40 131.35L136.51 131.35L137.62 131.35L138.72 131.35L139.83 131.35L140.94 131.96L142.04 134.11L143.15 137.24L144.26 140.62L145.36 143.59L146.47 145.02L147.58 146.63L148.68 147.34L149.79 147.02L150.90 147.29L150.90 131.35L32.50 131.35Z" fill="#6495ed" fill-opacity="0.42"/>
<path d="M32.50 139.63L33.61 137.86L34.71 136.10L35.82 133.19L36.93 128.84L38.03 126.98L39.14 130.17L40.25 133.25L41.35 132.44L42.46 132.67L43.56 133.96L44.67 133.91L45.78 132.98L46.88 135.24L47.99 137.79L49.10 141.53L50.20 146.00L51.31 142.88L52.42 139.44L53.52 137.57L54.63 136.67L55.74 136.73L56.84 135.70L57.95 132.11L59.06 132.19L60.16 134.45L61.27 134.26L62.38 134.06L63.48 131.35L64.59 128.97L65.69 127.36L66.80 127.77L67.91 129.04L69.01 127.35L70.12 125.65L71.23 128.79L72.33 130.43L73.44 129.84L74.55 126.34L75.65 115.88L76.76 108.58L77.87 107.45L78.97 104.79L80.08 102.15L81.19 103.69L82.29 104.45L83.40 105.30L84.51 106.38L85.61 108.65L86.72 111.90L87.83 113.47L88.93 115.17L90.04 125.31L91.14 135.42L92.25 136.78L93.36 137.55L94.46 136.69L95.57 134.74L96.68 136.28L97.78 136.52L98.89 135.63L100.00 136.40L101.10 134.97L102.21 133.80L103.32 138.05L104.42 141.00L105.53 141.92L106.64 140.80L107.74 139.75L108.85 138.96L109.95 140.39L111.06 141.41L112.17 141.81L113.27 144.55L114.38 148.28L115.49 145.94L116.59 141.16L117.70 136.77L118.81 129.24L119.91 125.51L121.02 127.66L122.13 128.99L123.23 129.83L124.34 128.24L125.45 125.81L126.55 122.12L127.66 125.92L128.77 127.55L129.87 127.31L130.98 127.08L132.09 127.87L133.19 127.92L134.30 127.73L135.40 128.09L136.51 126.63L137.62 127.14L138.72 128.50L139.83 130.05L140.94 131.96L142.04 134.11L143.15 137.24L144.26 140.62L145.36 143.59L146.47 145.02L147.58 146.63L148.68 147.34L149.79 147.02L150.90 147.29" fill="none" stroke="#000" stroke-width="0.95" stroke-linejoin="round"/>
</g>
<path d="M32.50 101.20V161.50" stroke="#000" stroke-width="0.55" fill="none"/>
<path d="M32.50 101.50H152.00" stroke="#000" stroke-width="0.55" fill="none"/>
<path d="M32.50 161.20H152.00" stroke="#000" stroke-width="0.55" fill="none"/>
<path d="M152.00 101.20V161.50" stroke="#000" stroke-width="0.55" fill="none"/>
<path d="M44.70 161.20v1.8" stroke="#000" stroke-width="0.5"/>
<path d="M58.05 161.20v1.8" stroke="#000" stroke-width="0.5"/>
<path d="M71.40 161.20v1.8" stroke="#000" stroke-width="0.5"/>
<path d="M84.75 161.20v1.8" stroke="#000" stroke-width="0.5"/>
<path d="M98.10 161.20v1.8" stroke="#000" stroke-width="0.5"/>
<path d="M111.45 161.20v1.8" stroke="#000" stroke-width="0.5"/>
<path d="M124.80 161.20v1.8" stroke="#000" stroke-width="0.5"/>
<path d="M138.15 161.20v1.8" stroke="#000" stroke-width="0.5"/>
<path d="M151.50 161.20v1.8" stroke="#000" stroke-width="0.5"/>
<path d="M32.50 112.69h-2.3" stroke="#ff7f0e" stroke-width="0.55"/>
<text x="28.40" y="114.49" font-size="5" text-anchor="end" fill="#ff7f0e" stroke="#ff7f0e" stroke-width="0.1">0.5</text>
<path d="M32.50 131.35h-2.3" stroke="#ff7f0e" stroke-width="0.55"/>
<text x="28.40" y="133.15" font-size="5" text-anchor="end" fill="#ff7f0e" stroke="#ff7f0e" stroke-width="0.1">0.0</text>
<path d="M32.50 150.01h-2.3" stroke="#ff7f0e" stroke-width="0.55"/>
<text x="28.40" y="151.81" font-size="5" text-anchor="end" fill="#ff7f0e" stroke="#ff7f0e" stroke-width="0.1">−0.5</text>
<path d="M152.00 104.21h2.3" stroke="#000" stroke-width="0.55"/>
<text x="155.80" y="106.01" font-size="5" text-anchor="start" fill="#000" stroke="#000" stroke-width="0.08">2</text>
<path d="M152.00 117.78h2.3" stroke="#000" stroke-width="0.55"/>
<text x="155.80" y="119.58" font-size="5" text-anchor="start" fill="#000" stroke="#000" stroke-width="0.08">1</text>
<path d="M152.00 131.35h2.3" stroke="#000" stroke-width="0.55"/>
<text x="155.80" y="133.15" font-size="5" text-anchor="start" fill="#000" stroke="#000" stroke-width="0.08">0</text>
<path d="M152.00 144.92h2.3" stroke="#000" stroke-width="0.55"/>
<text x="155.80" y="146.72" font-size="5" text-anchor="start" fill="#000" stroke="#000" stroke-width="0.08">−1</text>
<path d="M152.00 158.49h2.3" stroke="#000" stroke-width="0.55"/>
<text x="155.80" y="160.29" font-size="5" text-anchor="start" fill="#000" stroke="#000" stroke-width="0.08">−2</text>
<text transform="translate(166.90 131.35) rotate(-90)" font-size="5" text-anchor="middle" fill="#111">MEI. v2</text>
<text transform="translate(8.90 131.35) rotate(-90)" font-size="5" text-anchor="middle" fill="#ff7f0e" stroke="#ff7f0e" stroke-width="0.1">ISOP column anomalies</text>
<text transform="translate(16.40 131.35) rotate(-90)" font-size="5" text-anchor="middle" fill="#ff7f0e">[x 10<tspan dy="-2" font-size="3.9">15</tspan><tspan dy="2"> molec cm</tspan><tspan dy="-2" font-size="3.9">−2</tspan><tspan dy="2">]</tspan></text>
<text x="34.70" y="108.10" font-size="5" fill="#222">(d)</text>
<text x="91.25" y="91.40" font-size="6.15" font-weight="normal" text-anchor="middle" fill="#6e6e6e" stroke="#6e6e6e" stroke-width="0.15">Africa ISOP + ENSO</text>
<text x="91.25" y="98.30" font-size="6.15" font-weight="normal" text-anchor="middle" fill="#6e6e6e" stroke="#6e6e6e" stroke-width="0.15" xml:space="preserve">(r = -0.04, p =  0.67)</text>
</g>
<g>
<clipPath id="c5"><rect x="191.50" y="101.50" width="119.50" height="59.70"/></clipPath>
<g clip-path="url(#c5)">
<rect x="294.00" y="101.50" width="2.9" height="59.70" fill="#f3f3f3"/>
<path d="M294.50 106.00l1.9 -2.6M294.50 112.30l1.9 -2.6M294.50 118.60l1.9 -2.6M294.50 124.90l1.9 -2.6M294.50 131.20l1.9 -2.6M294.50 137.50l1.9 -2.6M294.50 143.80l1.9 -2.6M294.50 150.10l1.9 -2.6M294.50 156.40l1.9 -2.6M294.50 162.70l1.9 -2.6" stroke="#e6e6e6" stroke-width="0.7" fill="none"/>
<path d="M191.50 155.60L192.61 138.81L193.71 133.22L194.82 129.48L195.93 127.62L197.03 129.48L198.14 123.89L199.25 121.28L200.35 135.08L201.46 141.80L202.56 125.75L203.67 135.08L204.78 120.16L205.88 115.68L206.99 120.16L208.10 127.62L209.20 138.81L210.31 135.08L211.42 127.62L212.52 124.26L213.63 142.54L214.74 122.02L215.84 120.16L216.95 127.62L218.06 116.42L219.16 142.54L220.27 147.02L221.38 135.08L222.48 133.22L223.59 129.48L224.69 135.08L225.80 129.48L226.91 138.81L228.01 145.16L229.12 135.08L230.23 123.89L231.33 118.66L232.44 142.54L233.55 147.39L234.65 131.35L235.76 127.62L236.87 125.01L237.97 135.08L239.08 140.68L240.19 136.95L241.29 142.54L242.40 148.14L243.51 129.48L244.61 152.99L245.72 123.89L246.82 111.95L247.93 146.28L249.04 133.22L250.14 135.08L251.25 140.68L252.36 143.66L253.46 131.35L254.57 124.26L255.68 125.75L256.78 142.54L257.89 154.48L259.00 142.54L260.10 131.35L261.21 125.75L262.32 125.01L263.42 135.08L264.53 142.54L265.64 148.14L266.74 151.87L267.85 153.74L268.95 127.62L270.06 142.54L271.17 104.86L272.27 138.81L273.38 142.54L274.49 121.28L275.59 127.62L276.70 135.08L277.81 127.62L278.91 122.02L280.02 135.08L281.13 139.56L282.23 138.81L283.34 116.42L284.45 114.56L285.55 116.42L286.66 111.20L287.77 116.42L288.87 140.68L289.98 127.62L291.09 123.89L292.19 133.22L293.30 129.48L294.40 131.35L295.51 135.08L296.62 136.95L297.72 145.53L298.83 135.08L299.94 127.62L301.04 121.28L302.15 123.89L303.26 127.62L304.36 126.87L305.47 131.35L306.58 132.47L307.68 133.96L308.79 127.62L309.90 114.56" fill="none" stroke="#ff7f0e" stroke-width="1.1" stroke-linejoin="round"/>
<path d="M191.50 119.13L192.61 120.02L193.71 124.32L194.82 124.58L195.93 127.89L197.03 126.02L198.14 124.96L199.25 124.39L200.35 125.21L201.46 123.89L202.56 124.96L203.67 123.44L204.78 122.26L205.88 120.86L206.99 124.40L208.10 125.13L209.20 125.86L210.31 123.36L211.42 123.68L212.52 121.18L213.63 122.59L214.74 124.79L215.84 125.55L216.95 122.28L218.06 121.38L219.16 121.80L220.27 122.95L221.38 119.93L222.48 117.77L223.59 119.31L224.69 125.22L225.80 125.27L226.91 126.91L228.01 125.84L229.12 125.04L230.23 123.45L231.33 123.08L232.44 118.47L233.55 116.97L234.65 112.15L235.76 109.37L236.87 103.11L237.97 110.00L239.08 113.14L240.19 117.25L241.29 119.07L242.40 114.91L243.51 107.60L244.61 103.28L245.72 107.36L246.82 113.78L247.93 118.16L249.04 122.10L250.14 120.85L251.25 120.47L252.36 120.79L253.46 119.17L254.57 113.41L255.68 112.85L256.78 111.23L257.89 114.08L259.00 113.51L260.10 109.00L261.21 104.26L262.32 104.23L263.42 110.15L264.53 117.76L265.64 120.79L266.74 121.51L267.85 122.32L268.95 126.41L270.06 126.10L271.17 126.79L272.27 125.50L273.38 124.75L274.49 122.81L275.59 124.81L276.70 123.84L277.81 125.43L278.91 124.76L280.02 124.16L281.13 121.58L282.23 119.76L283.34 116.89L284.45 114.93L285.55 109.71L286.66 109.35L287.77 106.47L288.87 110.59L289.98 114.18L291.09 119.11L292.19 118.41L293.30 120.93L294.40 119.59L295.51 119.42L296.62 116.64L297.72 109.29L298.83 110.92L299.94 118.05L301.04 119.81L302.15 123.21L303.26 122.75L304.36 122.83L305.47 120.96L306.58 122.11L307.68 121.01L308.79 121.89L309.90 118.81L309.90 136.81L308.79 138.99L307.68 139.92L306.58 144.26L305.47 147.40L304.36 154.71L303.26 154.56L302.15 150.60L301.04 144.95L299.94 144.10L298.83 141.06L297.72 140.59L296.62 137.70L295.51 136.92L294.40 136.47L293.30 138.20L292.19 137.07L291.09 136.78L289.98 135.73L288.87 135.78L287.77 133.23L286.66 133.46L285.55 134.62L284.45 136.58L283.34 136.99L282.23 140.76L281.13 142.60L280.02 147.84L278.91 144.42L277.81 145.88L276.70 149.81L275.59 150.14L274.49 144.69L273.38 148.96L272.27 148.80L271.17 148.89L270.06 145.45L268.95 145.16L267.85 140.95L266.74 141.74L265.64 138.32L264.53 136.21L263.42 133.32L262.32 133.70L261.21 133.35L260.10 134.54L259.00 135.83L257.89 137.81L256.78 136.46L255.68 137.36L254.57 135.09L253.46 138.12L252.36 138.06L251.25 137.97L250.14 138.72L249.04 141.31L247.93 138.49L246.82 135.94L245.72 132.11L244.61 130.54L243.51 133.60L242.40 136.28L241.29 140.03L240.19 137.59L239.08 134.59L237.97 133.16L236.87 132.19L235.76 136.21L234.65 137.24L233.55 141.05L232.44 141.89L231.33 143.40L230.23 144.17L229.12 143.14L228.01 142.86L226.91 143.66L225.80 141.45L224.69 140.94L223.59 137.89L222.48 141.63L221.38 141.62L220.27 144.17L219.16 141.62L218.06 142.01L216.95 139.42L215.84 141.68L214.74 139.40L213.63 140.68L212.52 139.92L211.42 141.98L210.31 143.15L209.20 144.77L208.10 143.60L206.99 143.35L205.88 141.47L204.78 142.95L203.67 139.98L202.56 141.99L201.46 140.82L200.35 142.81L199.25 143.68L198.14 144.61L197.03 143.14L195.93 144.53L194.82 144.10L193.71 145.70L192.61 145.29L191.50 145.79Z" fill="#ff0000" fill-opacity="0.20"/>
<path d="M191.50 138.41L192.61 136.03L193.71 135.82L194.82 136.13L195.93 137.14L197.03 135.34L198.14 135.87L199.25 135.52L200.35 134.89L201.46 133.33L202.56 133.03L203.67 134.37L204.78 135.53L205.88 134.36L206.99 136.31L208.10 135.99L209.20 136.14L210.31 135.53L211.42 135.20L212.52 133.05L213.63 133.65L214.74 131.41L215.84 135.13L216.95 135.61L218.06 136.02L219.16 136.43L220.27 133.76L221.38 127.68L222.48 129.15L223.59 128.64L224.69 134.33L225.80 133.60L226.91 136.52L228.01 134.12L229.12 134.06L230.23 135.08L231.33 134.55L232.44 132.66L233.55 134.20L234.65 128.07L235.76 124.35L236.87 118.51L237.97 121.39L239.08 124.53L240.19 126.70L241.29 129.42L242.40 129.55L243.51 121.39L244.61 116.52L245.72 115.74L246.82 123.19L247.93 128.94L249.04 129.44L250.14 127.71L251.25 128.53L252.36 127.56L253.46 127.04L254.57 121.73L255.68 124.32L256.78 124.52L257.89 127.06L259.00 124.59L260.10 126.46L261.21 121.72L262.32 123.55L263.42 123.00L264.53 128.19L265.64 129.55L266.74 130.11L267.85 131.37L268.95 134.31L270.06 136.40L271.17 140.79L272.27 141.07L273.38 142.94L274.49 139.32L275.59 140.43L276.70 138.00L277.81 136.07L278.91 135.84L280.02 134.87L281.13 132.06L282.23 131.05L283.34 127.62L284.45 129.12L285.55 124.79L286.66 123.52L287.77 119.00L288.87 127.46L289.98 127.48L291.09 129.48L292.19 126.97L293.30 128.86L294.40 128.96L295.51 130.82L296.62 128.30L297.72 127.06L298.83 123.96L299.94 129.78L301.04 131.80L302.15 136.50L303.26 136.84L304.36 142.11L305.47 135.04L306.58 135.47L307.68 132.00L308.79 132.87L309.90 130.64" fill="none" stroke="#ff0000" stroke-width="1.05" stroke-linejoin="round"/>
</g>
<path d="M191.50 101.20V161.50" stroke="#000" stroke-width="0.55" fill="none"/>
<path d="M191.50 101.50H311.00" stroke="#000" stroke-width="0.55" fill="none"/>
<path d="M191.50 161.20H311.00" stroke="#000" stroke-width="0.55" fill="none"/>
<path d="M310.80 101.20V161.50" stroke="#b4b4b8" stroke-width="1.5" fill="none"/>
<path d="M203.70 161.20v1.8" stroke="#000" stroke-width="0.5"/>
<path d="M217.05 161.20v1.8" stroke="#000" stroke-width="0.5"/>
<path d="M230.40 161.20v1.8" stroke="#000" stroke-width="0.5"/>
<path d="M243.75 161.20v1.8" stroke="#000" stroke-width="0.5"/>
<path d="M257.10 161.20v1.8" stroke="#000" stroke-width="0.5"/>
<path d="M270.45 161.20v1.8" stroke="#000" stroke-width="0.5"/>
<path d="M283.80 161.20v1.8" stroke="#000" stroke-width="0.5"/>
<path d="M297.15 161.20v1.8" stroke="#000" stroke-width="0.5"/>
<path d="M310.50 161.20v1.8" stroke="#000" stroke-width="0.5"/>
<path d="M191.50 112.69h-2.3" stroke="#ff7f0e" stroke-width="0.55"/>
<text x="187.40" y="114.49" font-size="5" text-anchor="end" fill="#ff7f0e" stroke="#ff7f0e" stroke-width="0.1">0.5</text>
<path d="M191.50 131.35h-2.3" stroke="#ff7f0e" stroke-width="0.55"/>
<text x="187.40" y="133.15" font-size="5" text-anchor="end" fill="#ff7f0e" stroke="#ff7f0e" stroke-width="0.1">0.0</text>
<path d="M191.50 150.01h-2.3" stroke="#ff7f0e" stroke-width="0.55"/>
<text x="187.40" y="151.81" font-size="5" text-anchor="end" fill="#ff7f0e" stroke="#ff7f0e" stroke-width="0.1">−0.5</text>
<path d="M311.00 101.50h2.3" stroke="#ee3333" stroke-width="0.55"/>
<text x="314.40" y="103.30" font-size="5" text-anchor="start" fill="#ee3333" stroke="#ee3333" stroke-width="0.08">2</text>
<path d="M311.00 116.42h2.3" stroke="#ee3333" stroke-width="0.55"/>
<text x="314.40" y="118.22" font-size="5" text-anchor="start" fill="#ee3333" stroke="#ee3333" stroke-width="0.08">1</text>
<path d="M311.00 131.35h2.3" stroke="#ee3333" stroke-width="0.55"/>
<text x="314.40" y="133.15" font-size="5" text-anchor="start" fill="#ee3333" stroke="#ee3333" stroke-width="0.08">0</text>
<path d="M311.00 146.28h2.3" stroke="#ee3333" stroke-width="0.55"/>
<text x="314.40" y="148.08" font-size="5" text-anchor="start" fill="#ee3333" stroke="#ee3333" stroke-width="0.08">−1</text>
<path d="M311.00 161.20h2.3" stroke="#ee3333" stroke-width="0.55"/>
<text x="314.40" y="163.00" font-size="5" text-anchor="start" fill="#ee3333" stroke="#ee3333" stroke-width="0.08">−2</text>
<text transform="translate(326.30 131.35) rotate(-90)" font-size="5" text-anchor="middle" fill="#ee3333">Surface air temperature</text>
<text transform="translate(330.70 131.35) rotate(-90)" font-size="5" text-anchor="middle" fill="#ee3333">[K]</text>
<text x="193.70" y="108.10" font-size="5" fill="#222">(e)</text>
<text x="250.35" y="91.40" font-size="6.15" font-weight="normal" text-anchor="middle" fill="#6e6e6e" stroke="#6e6e6e" stroke-width="0.15">Africa ISOP + Temperature</text>
<text x="250.35" y="98.30" font-size="6.15" font-weight="normal" text-anchor="middle" fill="#6e6e6e" stroke="#6e6e6e" stroke-width="0.15" xml:space="preserve">(r = 0.10, p =  0.29)</text>
</g>
<g>
<clipPath id="c6"><rect x="350.50" y="101.50" width="119.50" height="59.70"/></clipPath>
<g clip-path="url(#c6)">
<rect x="453.00" y="101.50" width="2.9" height="59.70" fill="#f3f3f3"/>
<path d="M453.50 106.00l1.9 -2.6M453.50 112.30l1.9 -2.6M453.50 118.60l1.9 -2.6M453.50 124.90l1.9 -2.6M453.50 131.20l1.9 -2.6M453.50 137.50l1.9 -2.6M453.50 143.80l1.9 -2.6M453.50 150.10l1.9 -2.6M453.50 156.40l1.9 -2.6M453.50 162.70l1.9 -2.6" stroke="#e6e6e6" stroke-width="0.7" fill="none"/>
<path d="M350.50 155.60L351.61 138.81L352.71 133.22L353.82 129.48L354.93 127.62L356.03 129.48L357.14 123.89L358.25 121.28L359.35 135.08L360.46 141.80L361.56 125.75L362.67 135.08L363.78 120.16L364.88 115.68L365.99 120.16L367.10 127.62L368.20 138.81L369.31 135.08L370.42 127.62L371.52 124.26L372.63 142.54L373.74 122.02L374.84 120.16L375.95 127.62L377.06 116.42L378.16 142.54L379.27 147.02L380.38 135.08L381.48 133.22L382.59 129.48L383.69 135.08L384.80 129.48L385.91 138.81L387.01 145.16L388.12 135.08L389.23 123.89L390.33 118.66L391.44 142.54L392.55 147.39L393.65 131.35L394.76 127.62L395.87 125.01L396.97 135.08L398.08 140.68L399.19 136.95L400.29 142.54L401.40 148.14L402.51 129.48L403.61 152.99L404.72 123.89L405.82 111.95L406.93 146.28L408.04 133.22L409.14 135.08L410.25 140.68L411.36 143.66L412.46 131.35L413.57 124.26L414.68 125.75L415.78 142.54L416.89 154.48L418.00 142.54L419.10 131.35L420.21 125.75L421.32 125.01L422.42 135.08L423.53 142.54L424.64 148.14L425.74 151.87L426.85 153.74L427.95 127.62L429.06 142.54L430.17 104.86L431.27 138.81L432.38 142.54L433.49 121.28L434.59 127.62L435.70 135.08L436.81 127.62L437.91 122.02L439.02 135.08L440.13 139.56L441.23 138.81L442.34 116.42L443.45 114.56L444.55 116.42L445.66 111.20L446.77 116.42L447.87 140.68L448.98 127.62L450.09 123.89L451.19 133.22L452.30 129.48L453.40 131.35L454.51 135.08L455.62 136.95L456.72 145.53L457.83 135.08L458.94 127.62L460.04 121.28L461.15 123.89L462.26 127.62L463.36 126.87L464.47 131.35L465.58 132.47L466.68 133.96L467.79 127.62L468.90 114.56" fill="none" stroke="#ff7f0e" stroke-width="1.1" stroke-linejoin="round"/>
<path d="M350.50 118.34L351.61 112.44L352.71 112.91L353.82 122.18L354.93 123.21L356.03 121.07L357.14 121.32L358.25 121.15L359.35 123.13L360.46 122.57L361.56 123.71L362.67 121.34L363.78 120.04L364.88 119.32L365.99 120.54L367.10 120.39L368.20 122.73L369.31 122.20L370.42 123.33L371.52 117.20L372.63 118.05L373.74 117.94L374.84 121.81L375.95 120.19L377.06 119.73L378.16 118.70L379.27 122.19L380.38 118.78L381.48 118.56L382.59 117.48L383.69 118.94L384.80 117.95L385.91 116.94L387.01 111.98L388.12 116.47L389.23 116.99L390.33 115.37L391.44 111.79L392.55 117.17L393.65 119.56L394.76 121.26L395.87 117.54L396.97 121.04L398.08 118.91L399.19 122.37L400.29 115.59L401.40 112.19L402.51 113.12L403.61 116.70L404.72 115.67L405.82 117.53L406.93 117.15L408.04 120.08L409.14 116.05L410.25 116.52L411.36 116.74L412.46 119.80L413.57 117.48L414.68 117.49L415.78 113.29L416.89 114.42L418.00 115.99L419.10 120.11L420.21 122.61L421.32 124.55L422.42 124.01L423.53 125.35L424.64 123.04L425.74 124.05L426.85 122.74L427.95 124.12L429.06 118.35L430.17 119.54L431.27 123.24L432.38 123.81L433.49 120.92L434.59 120.58L435.70 116.70L436.81 121.00L437.91 123.96L439.02 126.40L440.13 123.09L441.23 125.69L442.34 124.51L443.45 123.27L444.55 122.71L445.66 122.93L446.77 124.54L447.87 127.43L448.98 124.58L450.09 125.51L451.19 125.10L452.30 125.09L453.40 122.49L454.51 119.69L455.62 113.31L456.72 114.47L457.83 114.67L458.94 120.47L460.04 120.93L461.15 124.62L462.26 121.98L463.36 125.40L464.47 123.45L465.58 123.03L466.68 119.45L467.79 117.42L468.90 115.13L468.90 136.96L467.79 139.37L466.68 140.02L465.58 144.21L464.47 144.79L463.36 144.52L462.26 142.66L461.15 142.73L460.04 139.53L458.94 139.77L457.83 138.45L456.72 138.55L455.62 137.85L454.51 140.52L453.40 140.61L452.30 140.76L451.19 141.27L450.09 141.42L448.98 141.73L447.87 146.64L446.77 149.53L445.66 150.73L444.55 147.18L443.45 148.75L442.34 146.91L441.23 146.95L440.13 143.76L439.02 142.47L437.91 140.87L436.81 143.25L435.70 141.41L434.59 142.94L433.49 143.76L432.38 145.61L431.27 147.35L430.17 149.62L429.06 145.44L427.95 146.84L426.85 142.79L425.74 142.93L424.64 142.03L423.53 144.09L422.42 145.29L421.32 146.51L420.21 142.90L419.10 143.83L418.00 140.31L416.89 141.13L415.78 138.28L414.68 138.57L413.57 138.30L412.46 139.49L411.36 138.31L410.25 138.83L409.14 138.97L408.04 140.73L406.93 139.68L405.82 141.72L404.72 142.58L403.61 143.22L402.51 140.64L401.40 143.93L400.29 142.39L399.19 141.10L398.08 138.84L396.97 138.80L395.87 137.94L394.76 140.72L393.65 143.82L392.55 146.04L391.44 143.11L390.33 143.87L389.23 141.95L388.12 141.19L387.01 140.55L385.91 140.89L384.80 139.36L383.69 140.41L382.59 138.58L381.48 140.21L380.38 139.71L379.27 142.39L378.16 143.31L377.06 145.13L375.95 144.74L374.84 145.72L373.74 142.41L372.63 141.15L371.52 139.35L370.42 140.16L369.31 138.84L368.20 140.59L367.10 139.50L365.99 141.24L364.88 142.07L363.78 145.96L362.67 147.30L361.56 142.63L360.46 140.92L359.35 141.60L358.25 138.79L357.14 142.33L356.03 140.33L354.93 140.50L353.82 137.35L352.71 136.64L351.61 135.07L350.50 137.80Z" fill="#00008b" fill-opacity="0.17"/>
<path d="M350.50 130.72L351.61 124.06L352.71 128.41L353.82 132.30L354.93 133.43L356.03 128.39L357.14 127.46L358.25 131.99L359.35 137.17L360.46 134.89L361.56 136.29L362.67 134.79L363.78 131.53L364.88 128.11L365.99 129.18L367.10 124.58L368.20 128.57L369.31 131.40L370.42 133.24L371.52 123.93L372.63 132.30L373.74 128.58L374.84 137.26L375.95 130.53L377.06 137.41L378.16 132.63L379.27 133.95L380.38 127.48L381.48 130.10L382.59 125.11L383.69 129.97L384.80 125.33L385.91 129.66L387.01 128.40L388.12 132.25L389.23 132.90L390.33 130.21L391.44 126.72L392.55 132.08L393.65 126.60L394.76 131.28L395.87 124.84L396.97 131.29L398.08 124.99L399.19 127.81L400.29 125.60L401.40 125.97L402.51 126.49L403.61 130.15L404.72 130.62L405.82 132.13L406.93 124.07L408.04 128.34L409.14 128.83L410.25 126.59L411.36 125.03L412.46 127.29L413.57 128.95L414.68 129.27L415.78 128.74L416.89 131.26L418.00 126.90L419.10 133.84L420.21 133.07L421.32 135.60L422.42 137.61L423.53 138.35L424.64 133.47L425.74 139.38L426.85 131.95L427.95 136.04L429.06 127.23L430.17 126.55L431.27 126.03L432.38 135.01L433.49 127.77L434.59 132.16L435.70 127.24L436.81 132.14L437.91 132.09L439.02 137.76L440.13 134.84L441.23 137.12L442.34 136.35L443.45 133.33L444.55 129.09L445.66 131.75L446.77 133.53L447.87 134.04L448.98 135.24L450.09 138.30L451.19 134.27L452.30 136.13L453.40 128.64L454.51 127.71L455.62 125.78L456.72 127.55L457.83 127.61L458.94 127.46L460.04 127.83L461.15 131.21L462.26 132.62L463.36 138.27L464.47 138.01L465.58 132.65L466.68 128.73L467.79 134.31L468.90 128.73" fill="none" stroke="#00008b" stroke-width="1.05" stroke-linejoin="round"/>
</g>
<path d="M350.50 101.20V161.50" stroke="#000" stroke-width="0.55" fill="none"/>
<path d="M350.50 101.50H470.00" stroke="#000" stroke-width="0.55" fill="none"/>
<path d="M350.50 161.20H470.00" stroke="#000" stroke-width="0.55" fill="none"/>
<path d="M469.80 101.20V161.50" stroke="#b4b4b8" stroke-width="1.5" fill="none"/>
<path d="M362.70 161.20v1.8" stroke="#000" stroke-width="0.5"/>
<path d="M376.05 161.20v1.8" stroke="#000" stroke-width="0.5"/>
<path d="M389.40 161.20v1.8" stroke="#000" stroke-width="0.5"/>
<path d="M402.75 161.20v1.8" stroke="#000" stroke-width="0.5"/>
<path d="M416.10 161.20v1.8" stroke="#000" stroke-width="0.5"/>
<path d="M429.45 161.20v1.8" stroke="#000" stroke-width="0.5"/>
<path d="M442.80 161.20v1.8" stroke="#000" stroke-width="0.5"/>
<path d="M456.15 161.20v1.8" stroke="#000" stroke-width="0.5"/>
<path d="M469.50 161.20v1.8" stroke="#000" stroke-width="0.5"/>
<path d="M350.50 112.69h-2.3" stroke="#ff7f0e" stroke-width="0.55"/>
<text x="346.40" y="114.49" font-size="5" text-anchor="end" fill="#ff7f0e" stroke="#ff7f0e" stroke-width="0.1">0.5</text>
<path d="M350.50 131.35h-2.3" stroke="#ff7f0e" stroke-width="0.55"/>
<text x="346.40" y="133.15" font-size="5" text-anchor="end" fill="#ff7f0e" stroke="#ff7f0e" stroke-width="0.1">0.0</text>
<path d="M350.50 150.01h-2.3" stroke="#ff7f0e" stroke-width="0.55"/>
<text x="346.40" y="151.81" font-size="5" text-anchor="end" fill="#ff7f0e" stroke="#ff7f0e" stroke-width="0.1">−0.5</text>
<path d="M470.00 101.50h2.3" stroke="#1a1a96" stroke-width="0.55"/>
<text x="473.80" y="103.30" font-size="5" text-anchor="start" fill="#1a1a96" stroke="#1a1a96" stroke-width="0.08">20</text>
<path d="M470.00 116.42h2.3" stroke="#1a1a96" stroke-width="0.55"/>
<text x="473.80" y="118.22" font-size="5" text-anchor="start" fill="#1a1a96" stroke="#1a1a96" stroke-width="0.08">10</text>
<path d="M470.00 131.35h2.3" stroke="#1a1a96" stroke-width="0.55"/>
<text x="473.80" y="133.15" font-size="5" text-anchor="start" fill="#1a1a96" stroke="#1a1a96" stroke-width="0.08">0</text>
<path d="M470.00 146.28h2.3" stroke="#1a1a96" stroke-width="0.55"/>
<text x="473.80" y="148.08" font-size="5" text-anchor="start" fill="#1a1a96" stroke="#1a1a96" stroke-width="0.08">−10</text>
<path d="M470.00 161.20h2.3" stroke="#1a1a96" stroke-width="0.55"/>
<text x="473.80" y="163.00" font-size="5" text-anchor="start" fill="#1a1a96" stroke="#1a1a96" stroke-width="0.08">−20</text>
<text transform="translate(487.50 131.35) rotate(-90)" font-size="5" text-anchor="middle" fill="#00008b">Downwelling PAR</text>
<text transform="translate(493.60 131.35) rotate(-90)" font-size="5" text-anchor="middle" fill="#00008b">[W m<tspan dy="-2" font-size="3.9">−2</tspan><tspan dy="2">]</tspan></text>
<text x="352.70" y="108.10" font-size="5" fill="#222">(f)</text>
<text x="409.95" y="91.40" font-size="6.1" font-weight="bold" text-anchor="middle" fill="#000" stroke="#000" stroke-width="0.15">Africa ISOP + Direct PAR</text>
<text x="409.95" y="98.30" font-size="6.1" font-weight="bold" text-anchor="middle" fill="#000" stroke="#000" stroke-width="0.15" xml:space="preserve">(r = -0.31, p =  0.00)</text>
</g>
<g>
<clipPath id="c7"><rect x="32.50" y="183.50" width="119.50" height="59.70"/></clipPath>
<g clip-path="url(#c7)">
<rect x="135.00" y="183.50" width="2.9" height="59.70" fill="#f3f3f3"/>
<path d="M135.50 188.00l1.9 -2.6M135.50 194.30l1.9 -2.6M135.50 200.60l1.9 -2.6M135.50 206.90l1.9 -2.6M135.50 213.20l1.9 -2.6M135.50 219.50l1.9 -2.6M135.50 225.80l1.9 -2.6M135.50 232.10l1.9 -2.6M135.50 238.40l1.9 -2.6M135.50 244.70l1.9 -2.6" stroke="#e6e6e6" stroke-width="0.7" fill="none"/>
<path d="M32.50 219.89L33.61 222.07L34.71 217.71L35.82 213.35L36.93 217.71L38.03 213.35L39.14 214.44L40.25 215.53L41.35 216.62L42.46 220.98L43.56 222.07L44.67 214.44L45.78 211.17L46.88 207.69L47.99 210.08L49.10 208.99L50.20 206.38L51.31 208.99L52.42 206.81L53.52 207.25L54.63 213.35L55.74 205.72L56.84 203.98L57.95 213.35L59.06 208.99L60.16 222.07L61.27 217.71L62.38 211.17L63.48 206.38L64.59 213.35L65.69 215.53L66.80 211.17L67.91 219.89L69.01 225.12L70.12 207.69L71.23 215.53L72.33 219.89L73.44 228.17L74.55 219.89L75.65 224.24L76.76 222.07L77.87 230.78L78.97 232.96L80.08 231.87L81.19 240.15L82.29 230.78L83.40 229.47L84.51 222.07L85.61 211.17L86.72 206.16L87.83 205.07L88.93 211.17L90.04 211.17L91.14 205.72L92.25 200.71L93.36 201.37L94.46 193.74L95.57 187.64L96.68 198.10L97.78 203.55L98.89 214.44L100.00 215.53L101.10 210.08L102.21 208.99L103.32 212.26L104.42 211.17L105.53 210.08L106.64 211.17L107.74 212.26L108.85 213.35L109.95 206.81L111.06 198.97L112.17 205.72L113.27 208.99L114.38 214.44L115.49 215.53L116.59 217.71L117.70 215.53L118.81 216.62L119.91 219.89L121.02 221.41L122.13 217.71L123.23 214.44L124.34 215.53L125.45 208.99L126.55 205.07L127.66 212.26L128.77 214.44L129.87 216.62L130.98 219.45L132.09 216.62L133.19 222.07L134.30 225.12L135.40 225.99L136.51 227.08L137.62 225.33L138.72 222.07L139.83 215.53L140.94 200.71L142.04 207.90L143.15 202.67L144.26 204.63L145.36 206.81L146.47 201.37L147.58 196.36L148.68 208.99L149.79 200.28L150.90 197.66" fill="none" stroke="#2ca02c" stroke-width="1.1" stroke-linejoin="round"/>
<path d="M32.50 213.35L33.61 213.35L34.71 213.35L35.82 213.35L36.93 210.84L38.03 208.98L39.14 212.17L40.25 213.35L41.35 213.35L42.46 213.35L43.56 213.35L44.67 213.35L45.78 213.35L46.88 213.35L47.99 213.35L49.10 213.35L50.20 213.35L51.31 213.35L52.42 213.35L53.52 213.35L54.63 213.35L55.74 213.35L56.84 213.35L57.95 213.35L59.06 213.35L60.16 213.35L61.27 213.35L62.38 213.35L63.48 213.35L64.59 210.97L65.69 209.36L66.80 209.77L67.91 211.04L69.01 209.35L70.12 207.65L71.23 210.79L72.33 212.43L73.44 211.84L74.55 208.34L75.65 197.88L76.76 190.58L77.87 189.45L78.97 186.79L80.08 184.15L81.19 185.69L82.29 186.45L83.40 187.30L84.51 188.38L85.61 190.65L86.72 193.90L87.83 195.47L88.93 197.17L90.04 207.31L91.14 213.35L92.25 213.35L93.36 213.35L94.46 213.35L95.57 213.35L96.68 213.35L97.78 213.35L98.89 213.35L100.00 213.35L101.10 213.35L102.21 213.35L103.32 213.35L104.42 213.35L105.53 213.35L106.64 213.35L107.74 213.35L108.85 213.35L109.95 213.35L111.06 213.35L112.17 213.35L113.27 213.35L114.38 213.35L115.49 213.35L116.59 213.35L117.70 213.35L118.81 211.24L119.91 207.51L121.02 209.66L122.13 210.99L123.23 211.83L124.34 210.24L125.45 207.81L126.55 204.12L127.66 207.92L128.77 209.55L129.87 209.31L130.98 209.08L132.09 209.87L133.19 209.92L134.30 209.73L135.40 210.09L136.51 208.63L137.62 209.14L138.72 210.50L139.83 212.05L140.94 213.35L142.04 213.35L143.15 213.35L144.26 213.35L145.36 213.35L146.47 213.35L147.58 213.35L148.68 213.35L149.79 213.35L150.90 213.35L150.90 213.35L32.50 213.35Z" fill="#cd5c5c" fill-opacity="0.4"/>
<path d="M32.50 221.63L33.61 219.86L34.71 218.10L35.82 215.19L36.93 213.35L38.03 213.35L39.14 213.35L40.25 215.25L41.35 214.44L42.46 214.67L43.56 215.96L44.67 215.91L45.78 214.98L46.88 217.24L47.99 219.79L49.10 223.53L50.20 228.00L51.31 224.88L52.42 221.44L53.52 219.57L54.63 218.67L55.74 218.73L56.84 217.70L57.95 214.11L59.06 214.19L60.16 216.45L61.27 216.26L62.38 216.06L63.48 213.35L64.59 213.35L65.69 213.35L66.80 213.35L67.91 213.35L69.01 213.35L70.12 213.35L71.23 213.35L72.33 213.35L73.44 213.35L74.55 213.35L75.65 213.35L76.76 213.35L77.87 213.35L78.97 213.35L80.08 213.35L81.19 213.35L82.29 213.35L83.40 213.35L84.51 213.35L85.61 213.35L86.72 213.35L87.83 213.35L88.93 213.35L90.04 213.35L91.14 217.42L92.25 218.78L93.36 219.55L94.46 218.69L95.57 216.74L96.68 218.28L97.78 218.52L98.89 217.63L100.00 218.40L101.10 216.97L102.21 215.80L103.32 220.05L104.42 223.00L105.53 223.92L106.64 222.80L107.74 221.75L108.85 220.96L109.95 222.39L111.06 223.41L112.17 223.81L113.27 226.55L114.38 230.28L115.49 227.94L116.59 223.16L117.70 218.77L118.81 213.35L119.91 213.35L121.02 213.35L122.13 213.35L123.23 213.35L124.34 213.35L125.45 213.35L126.55 213.35L127.66 213.35L128.77 213.35L129.87 213.35L130.98 213.35L132.09 213.35L133.19 213.35L134.30 213.35L135.40 213.35L136.51 213.35L137.62 213.35L138.72 213.35L139.83 213.35L140.94 213.96L142.04 216.11L143.15 219.24L144.26 222.62L145.36 225.59L146.47 227.02L147.58 228.63L148.68 229.34L149.79 229.02L150.90 229.29L150.90 213.35L32.50 213.35Z" fill="#6495ed" fill-opacity="0.42"/>
<path d="M32.50 221.63L33.61 219.86L34.71 218.10L35.82 215.19L36.93 210.84L38.03 208.98L39.14 212.17L40.25 215.25L41.35 214.44L42.46 214.67L43.56 215.96L44.67 215.91L45.78 214.98L46.88 217.24L47.99 219.79L49.10 223.53L50.20 228.00L51.31 224.88L52.42 221.44L53.52 219.57L54.63 218.67L55.74 218.73L56.84 217.70L57.95 214.11L59.06 214.19L60.16 216.45L61.27 216.26L62.38 216.06L63.48 213.35L64.59 210.97L65.69 209.36L66.80 209.77L67.91 211.04L69.01 209.35L70.12 207.65L71.23 210.79L72.33 212.43L73.44 211.84L74.55 208.34L75.65 197.88L76.76 190.58L77.87 189.45L78.97 186.79L80.08 184.15L81.19 185.69L82.29 186.45L83.40 187.30L84.51 188.38L85.61 190.65L86.72 193.90L87.83 195.47L88.93 197.17L90.04 207.31L91.14 217.42L92.25 218.78L93.36 219.55L94.46 218.69L95.57 216.74L96.68 218.28L97.78 218.52L98.89 217.63L100.00 218.40L101.10 216.97L102.21 215.80L103.32 220.05L104.42 223.00L105.53 223.92L106.64 222.80L107.74 221.75L108.85 220.96L109.95 222.39L111.06 223.41L112.17 223.81L113.27 226.55L114.38 230.28L115.49 227.94L116.59 223.16L117.70 218.77L118.81 211.24L119.91 207.51L121.02 209.66L122.13 210.99L123.23 211.83L124.34 210.24L125.45 207.81L126.55 204.12L127.66 207.92L128.77 209.55L129.87 209.31L130.98 209.08L132.09 209.87L133.19 209.92L134.30 209.73L135.40 210.09L136.51 208.63L137.62 209.14L138.72 210.50L139.83 212.05L140.94 213.96L142.04 216.11L143.15 219.24L144.26 222.62L145.36 225.59L146.47 227.02L147.58 228.63L148.68 229.34L149.79 229.02L150.90 229.29" fill="none" stroke="#000" stroke-width="0.95" stroke-linejoin="round"/>
</g>
<path d="M32.50 183.20V243.50" stroke="#000" stroke-width="0.55" fill="none"/>
<path d="M32.50 183.50H152.00" stroke="#000" stroke-width="0.55" fill="none"/>
<path d="M32.50 243.20H152.00" stroke="#000" stroke-width="0.55" fill="none"/>
<path d="M152.00 183.20V243.50" stroke="#000" stroke-width="0.55" fill="none"/>
<path d="M44.70 243.20v1.8" stroke="#000" stroke-width="0.5"/>
<text x="44.70" y="250.80" font-size="5" text-anchor="middle" fill="#222">2013</text>
<path d="M58.05 243.20v1.8" stroke="#000" stroke-width="0.5"/>
<text x="58.05" y="250.80" font-size="5" text-anchor="middle" fill="#222">2014</text>
<path d="M71.40 243.20v1.8" stroke="#000" stroke-width="0.5"/>
<text x="71.40" y="250.80" font-size="5" text-anchor="middle" fill="#222">2015</text>
<path d="M84.75 243.20v1.8" stroke="#000" stroke-width="0.5"/>
<text x="84.75" y="250.80" font-size="5" text-anchor="middle" fill="#222">2016</text>
<path d="M98.10 243.20v1.8" stroke="#000" stroke-width="0.5"/>
<text x="98.10" y="250.80" font-size="5" text-anchor="middle" fill="#222">2017</text>
<path d="M111.45 243.20v1.8" stroke="#000" stroke-width="0.5"/>
<text x="111.45" y="250.80" font-size="5" text-anchor="middle" fill="#222">2018</text>
<path d="M124.80 243.20v1.8" stroke="#000" stroke-width="0.5"/>
<text x="124.80" y="250.80" font-size="5" text-anchor="middle" fill="#222">2019</text>
<path d="M138.15 243.20v1.8" stroke="#000" stroke-width="0.5"/>
<text x="138.15" y="250.80" font-size="5" text-anchor="middle" fill="#222">2020</text>
<path d="M151.50 243.20v1.8" stroke="#000" stroke-width="0.5"/>
<text x="151.50" y="250.80" font-size="5" text-anchor="middle" fill="#222">2021</text>
<path d="M32.50 191.56h-2.3" stroke="#2ca02c" stroke-width="0.55"/>
<text x="28.40" y="193.36" font-size="5" text-anchor="end" fill="#2ca02c" stroke="#2ca02c" stroke-width="0.1">1</text>
<path d="M32.50 213.35h-2.3" stroke="#2ca02c" stroke-width="0.55"/>
<text x="28.40" y="215.15" font-size="5" text-anchor="end" fill="#2ca02c" stroke="#2ca02c" stroke-width="0.1">0</text>
<path d="M32.50 235.14h-2.3" stroke="#2ca02c" stroke-width="0.55"/>
<text x="28.40" y="236.94" font-size="5" text-anchor="end" fill="#2ca02c" stroke="#2ca02c" stroke-width="0.1">−1</text>
<path d="M152.00 186.21h2.3" stroke="#000" stroke-width="0.55"/>
<text x="155.80" y="188.01" font-size="5" text-anchor="start" fill="#000" stroke="#000" stroke-width="0.08">2</text>
<path d="M152.00 199.78h2.3" stroke="#000" stroke-width="0.55"/>
<text x="155.80" y="201.58" font-size="5" text-anchor="start" fill="#000" stroke="#000" stroke-width="0.08">1</text>
<path d="M152.00 213.35h2.3" stroke="#000" stroke-width="0.55"/>
<text x="155.80" y="215.15" font-size="5" text-anchor="start" fill="#000" stroke="#000" stroke-width="0.08">0</text>
<path d="M152.00 226.92h2.3" stroke="#000" stroke-width="0.55"/>
<text x="155.80" y="228.72" font-size="5" text-anchor="start" fill="#000" stroke="#000" stroke-width="0.08">−1</text>
<path d="M152.00 240.49h2.3" stroke="#000" stroke-width="0.55"/>
<text x="155.80" y="242.29" font-size="5" text-anchor="start" fill="#000" stroke="#000" stroke-width="0.08">−2</text>
<text transform="translate(166.90 213.35) rotate(-90)" font-size="5" text-anchor="middle" fill="#111">MEI. v2</text>
<text transform="translate(9.60 213.35) rotate(-90)" font-size="5" text-anchor="middle" fill="#2ca02c" stroke="#2ca02c" stroke-width="0.1">ISOP column anomalies</text>
<text transform="translate(17.10 213.35) rotate(-90)" font-size="5" text-anchor="middle" fill="#2ca02c">[x 10<tspan dy="-2" font-size="3.9">15</tspan><tspan dy="2"> molec cm</tspan><tspan dy="-2" font-size="3.9">−2</tspan><tspan dy="2">]</tspan></text>
<text x="34.70" y="190.10" font-size="5" fill="#222">(g)</text>
<text x="91.25" y="173.40" font-size="6.1" font-weight="bold" text-anchor="middle" fill="#000" stroke="#000" stroke-width="0.15">Maritime Continent ISOP + ENSO</text>
<text x="91.25" y="180.30" font-size="6.1" font-weight="bold" text-anchor="middle" fill="#000" stroke="#000" stroke-width="0.15" xml:space="preserve">(r = -0.52, p =  0.00)</text>
</g>
<g>
<clipPath id="c8"><rect x="191.50" y="183.50" width="119.50" height="59.70"/></clipPath>
<g clip-path="url(#c8)">
<rect x="294.00" y="183.50" width="2.9" height="59.70" fill="#f3f3f3"/>
<path d="M294.50 188.00l1.9 -2.6M294.50 194.30l1.9 -2.6M294.50 200.60l1.9 -2.6M294.50 206.90l1.9 -2.6M294.50 213.20l1.9 -2.6M294.50 219.50l1.9 -2.6M294.50 225.80l1.9 -2.6M294.50 232.10l1.9 -2.6M294.50 238.40l1.9 -2.6M294.50 244.70l1.9 -2.6" stroke="#e6e6e6" stroke-width="0.7" fill="none"/>
<path d="M191.50 219.89L192.61 222.07L193.71 217.71L194.82 213.35L195.93 217.71L197.03 213.35L198.14 214.44L199.25 215.53L200.35 216.62L201.46 220.98L202.56 222.07L203.67 214.44L204.78 211.17L205.88 207.69L206.99 210.08L208.10 208.99L209.20 206.38L210.31 208.99L211.42 206.81L212.52 207.25L213.63 213.35L214.74 205.72L215.84 203.98L216.95 213.35L218.06 208.99L219.16 222.07L220.27 217.71L221.38 211.17L222.48 206.38L223.59 213.35L224.69 215.53L225.80 211.17L226.91 219.89L228.01 225.12L229.12 207.69L230.23 215.53L231.33 219.89L232.44 228.17L233.55 219.89L234.65 224.24L235.76 222.07L236.87 230.78L237.97 232.96L239.08 231.87L240.19 240.15L241.29 230.78L242.40 229.47L243.51 222.07L244.61 211.17L245.72 206.16L246.82 205.07L247.93 211.17L249.04 211.17L250.14 205.72L251.25 200.71L252.36 201.37L253.46 193.74L254.57 187.64L255.68 198.10L256.78 203.55L257.89 214.44L259.00 215.53L260.10 210.08L261.21 208.99L262.32 212.26L263.42 211.17L264.53 210.08L265.64 211.17L266.74 212.26L267.85 213.35L268.95 206.81L270.06 198.97L271.17 205.72L272.27 208.99L273.38 214.44L274.49 215.53L275.59 217.71L276.70 215.53L277.81 216.62L278.91 219.89L280.02 221.41L281.13 217.71L282.23 214.44L283.34 215.53L284.45 208.99L285.55 205.07L286.66 212.26L287.77 214.44L288.87 216.62L289.98 219.45L291.09 216.62L292.19 222.07L293.30 225.12L294.40 225.99L295.51 227.08L296.62 225.33L297.72 222.07L298.83 215.53L299.94 200.71L301.04 207.90L302.15 202.67L303.26 204.63L304.36 206.81L305.47 201.37L306.58 196.36L307.68 208.99L308.79 200.28L309.90 197.66" fill="none" stroke="#2ca02c" stroke-width="1.1" stroke-linejoin="round"/>
<path d="M191.50 214.09L192.61 214.13L193.71 214.83L194.82 215.33L195.93 215.66L197.03 214.19L198.14 214.27L199.25 213.17L200.35 212.92L201.46 211.76L202.56 212.35L203.67 210.57L204.78 210.04L205.88 208.48L206.99 209.16L208.10 209.77L209.20 211.27L210.31 210.97L211.42 211.69L212.52 211.76L213.63 212.85L214.74 211.61L215.84 213.01L216.95 213.00L218.06 213.45L219.16 212.85L220.27 212.62L221.38 210.96L222.48 210.05L223.59 209.12L224.69 209.14L225.80 208.92L226.91 210.65L228.01 210.03L229.12 210.80L230.23 210.75L231.33 212.08L232.44 212.02L233.55 211.80L234.65 211.08L235.76 210.22L236.87 209.36L237.97 208.87L239.08 205.87L240.19 204.68L241.29 201.61L242.40 200.25L243.51 198.29L244.61 198.78L245.72 199.48L246.82 200.84L247.93 199.10L249.04 199.42L250.14 198.92L251.25 200.32L252.36 200.98L253.46 204.10L254.57 205.69L255.68 208.24L256.78 208.17L257.89 210.24L259.00 210.23L260.10 210.21L261.21 209.29L262.32 209.55L263.42 207.52L264.53 206.43L265.64 204.84L266.74 206.67L267.85 206.88L268.95 207.97L270.06 208.32L271.17 210.47L272.27 209.51L273.38 209.94L274.49 210.13L275.59 209.92L276.70 209.35L277.81 209.77L278.91 208.81L280.02 208.94L281.13 208.39L282.23 207.80L283.34 206.89L284.45 207.67L285.55 206.86L286.66 207.62L287.77 208.29L288.87 209.32L289.98 207.11L291.09 206.81L292.19 204.41L293.30 203.81L294.40 201.77L295.51 201.25L296.62 200.17L297.72 203.14L298.83 203.04L299.94 204.39L301.04 203.90L302.15 203.91L303.26 204.14L304.36 205.27L305.47 206.05L306.58 207.01L307.68 206.94L308.79 208.02L309.90 208.65L309.90 216.19L308.79 216.55L307.68 215.83L306.58 215.92L305.47 215.09L304.36 215.56L303.26 215.03L302.15 214.55L301.04 213.12L299.94 213.57L298.83 212.81L297.72 213.68L296.62 214.57L295.51 216.02L294.40 217.34L293.30 220.30L292.19 220.26L291.09 220.75L289.98 220.43L288.87 219.45L287.77 217.15L286.66 216.72L285.55 215.59L284.45 215.92L283.34 215.53L282.23 215.78L281.13 216.32L280.02 216.99L278.91 216.81L277.81 217.82L276.70 217.44L275.59 218.70L274.49 217.86L273.38 218.16L272.27 218.52L271.17 218.41L270.06 216.75L268.95 216.38L267.85 214.30L266.74 215.20L265.64 214.62L264.53 215.87L263.42 215.50L262.32 217.49L261.21 217.45L260.10 218.85L259.00 218.32L257.89 218.42L256.78 217.75L255.68 217.82L254.57 217.35L253.46 218.35L252.36 214.37L251.25 212.04L250.14 210.91L249.04 211.65L247.93 211.04L246.82 211.68L245.72 212.27L244.61 213.15L243.51 213.99L242.40 216.40L241.29 219.20L240.19 222.67L239.08 224.03L237.97 223.06L236.87 220.95L235.76 221.05L234.65 220.70L233.55 222.00L232.44 221.50L231.33 222.02L230.23 220.61L229.12 221.40L228.01 220.59L226.91 220.24L225.80 218.91L224.69 219.05L223.59 217.83L222.48 217.23L221.38 218.57L220.27 220.50L219.16 221.07L218.06 223.65L216.95 224.49L215.84 225.53L214.74 223.81L213.63 222.45L212.52 220.94L211.42 219.90L210.31 217.92L209.20 217.94L208.10 216.90L206.99 217.14L205.88 216.84L204.78 217.10L203.67 217.83L202.56 219.37L201.46 219.21L200.35 220.80L199.25 221.36L198.14 222.52L197.03 223.62L195.93 224.82L194.82 225.28L193.71 224.94L192.61 223.02L191.50 222.67Z" fill="#ff0000" fill-opacity="0.20"/>
<path d="M191.50 218.04L192.61 218.16L193.71 220.14L194.82 219.21L195.93 219.21L197.03 218.45L198.14 218.84L199.25 216.94L200.35 217.32L201.46 215.76L202.56 216.33L203.67 214.25L204.78 212.74L205.88 210.56L206.99 213.12L208.10 212.63L209.20 214.06L210.31 213.81L211.42 215.22L212.52 215.82L213.63 217.08L214.74 217.52L215.84 218.92L216.95 218.76L218.06 218.07L219.16 215.75L220.27 215.57L221.38 212.76L222.48 211.84L223.59 212.11L224.69 213.79L225.80 214.65L226.91 216.49L228.01 216.24L229.12 216.74L230.23 216.67L231.33 218.46L232.44 216.91L233.55 218.27L234.65 216.27L235.76 215.78L236.87 214.70L237.97 215.69L239.08 214.93L240.19 213.80L241.29 210.85L242.40 208.97L243.51 205.73L244.61 204.54L245.72 204.15L246.82 206.42L247.93 205.10L249.04 205.62L250.14 206.56L251.25 207.78L252.36 207.61L253.46 211.82L254.57 212.24L255.68 213.14L256.78 213.59L257.89 214.90L259.00 215.79L260.10 215.30L261.21 212.73L262.32 213.98L263.42 211.66L264.53 211.50L265.64 210.95L266.74 210.46L267.85 211.42L268.95 213.40L270.06 212.34L271.17 214.62L272.27 212.30L273.38 214.87L274.49 213.73L275.59 214.52L276.70 213.48L277.81 214.66L278.91 213.24L280.02 213.96L281.13 211.10L282.23 211.67L283.34 210.71L284.45 210.88L285.55 210.51L286.66 212.21L287.77 211.96L288.87 212.47L289.98 212.94L291.09 215.31L292.19 213.87L293.30 215.27L294.40 212.53L295.51 210.91L296.62 207.00L297.72 206.31L298.83 206.28L299.94 209.01L301.04 209.62L302.15 209.56L303.26 209.54L304.36 210.11L305.47 209.42L306.58 212.36L307.68 211.39L308.79 213.12L309.90 211.70" fill="none" stroke="#ff0000" stroke-width="1.05" stroke-linejoin="round"/>
</g>
<path d="M191.50 183.20V243.50" stroke="#000" stroke-width="0.55" fill="none"/>
<path d="M191.50 183.50H311.00" stroke="#000" stroke-width="0.55" fill="none"/>
<path d="M191.50 243.20H311.00" stroke="#000" stroke-width="0.55" fill="none"/>
<path d="M310.80 183.20V243.50" stroke="#b4b4b8" stroke-width="1.5" fill="none"/>
<path d="M203.70 243.20v1.8" stroke="#000" stroke-width="0.5"/>
<text x="203.70" y="250.80" font-size="5" text-anchor="middle" fill="#222">2013</text>
<path d="M217.05 243.20v1.8" stroke="#000" stroke-width="0.5"/>
<text x="217.05" y="250.80" font-size="5" text-anchor="middle" fill="#222">2014</text>
<path d="M230.40 243.20v1.8" stroke="#000" stroke-width="0.5"/>
<text x="230.40" y="250.80" font-size="5" text-anchor="middle" fill="#222">2015</text>
<path d="M243.75 243.20v1.8" stroke="#000" stroke-width="0.5"/>
<text x="243.75" y="250.80" font-size="5" text-anchor="middle" fill="#222">2016</text>
<path d="M257.10 243.20v1.8" stroke="#000" stroke-width="0.5"/>
<text x="257.10" y="250.80" font-size="5" text-anchor="middle" fill="#222">2017</text>
<path d="M270.45 243.20v1.8" stroke="#000" stroke-width="0.5"/>
<text x="270.45" y="250.80" font-size="5" text-anchor="middle" fill="#222">2018</text>
<path d="M283.80 243.20v1.8" stroke="#000" stroke-width="0.5"/>
<text x="283.80" y="250.80" font-size="5" text-anchor="middle" fill="#222">2019</text>
<path d="M297.15 243.20v1.8" stroke="#000" stroke-width="0.5"/>
<text x="297.15" y="250.80" font-size="5" text-anchor="middle" fill="#222">2020</text>
<path d="M310.50 243.20v1.8" stroke="#000" stroke-width="0.5"/>
<text x="310.50" y="250.80" font-size="5" text-anchor="middle" fill="#222">2021</text>
<path d="M191.50 191.56h-2.3" stroke="#2ca02c" stroke-width="0.55"/>
<text x="187.40" y="193.36" font-size="5" text-anchor="end" fill="#2ca02c" stroke="#2ca02c" stroke-width="0.1">1</text>
<path d="M191.50 213.35h-2.3" stroke="#2ca02c" stroke-width="0.55"/>
<text x="187.40" y="215.15" font-size="5" text-anchor="end" fill="#2ca02c" stroke="#2ca02c" stroke-width="0.1">0</text>
<path d="M191.50 235.14h-2.3" stroke="#2ca02c" stroke-width="0.55"/>
<text x="187.40" y="236.94" font-size="5" text-anchor="end" fill="#2ca02c" stroke="#2ca02c" stroke-width="0.1">−1</text>
<path d="M311.00 183.50h2.3" stroke="#ee3333" stroke-width="0.55"/>
<text x="314.40" y="185.30" font-size="5" text-anchor="start" fill="#ee3333" stroke="#ee3333" stroke-width="0.08">2</text>
<path d="M311.00 198.42h2.3" stroke="#ee3333" stroke-width="0.55"/>
<text x="314.40" y="200.22" font-size="5" text-anchor="start" fill="#ee3333" stroke="#ee3333" stroke-width="0.08">1</text>
<path d="M311.00 213.35h2.3" stroke="#ee3333" stroke-width="0.55"/>
<text x="314.40" y="215.15" font-size="5" text-anchor="start" fill="#ee3333" stroke="#ee3333" stroke-width="0.08">0</text>
<path d="M311.00 228.28h2.3" stroke="#ee3333" stroke-width="0.55"/>
<text x="314.40" y="230.08" font-size="5" text-anchor="start" fill="#ee3333" stroke="#ee3333" stroke-width="0.08">−1</text>
<path d="M311.00 243.20h2.3" stroke="#ee3333" stroke-width="0.55"/>
<text x="314.40" y="245.00" font-size="5" text-anchor="start" fill="#ee3333" stroke="#ee3333" stroke-width="0.08">−2</text>
<text transform="translate(326.30 213.35) rotate(-90)" font-size="5" text-anchor="middle" fill="#ee3333">Surface air temperature</text>
<text transform="translate(330.70 213.35) rotate(-90)" font-size="5" text-anchor="middle" fill="#ee3333">[K]</text>
<text x="193.70" y="190.10" font-size="5" fill="#222">(h)</text>
<text x="250.35" y="173.40" font-size="6.1" font-weight="bold" text-anchor="middle" fill="#808080" stroke="#808080" stroke-width="0.15">Maritime Continent ISOP + Temperature</text>
<text x="250.35" y="180.30" font-size="6.1" font-weight="bold" text-anchor="middle" fill="#808080" stroke="#808080" stroke-width="0.15" xml:space="preserve">(r = 0.16, p =  0.10)</text>
</g>
<g>
<clipPath id="c9"><rect x="350.50" y="183.50" width="119.50" height="59.70"/></clipPath>
<g clip-path="url(#c9)">
<rect x="453.00" y="183.50" width="2.9" height="59.70" fill="#f3f3f3"/>
<path d="M453.50 188.00l1.9 -2.6M453.50 194.30l1.9 -2.6M453.50 200.60l1.9 -2.6M453.50 206.90l1.9 -2.6M453.50 213.20l1.9 -2.6M453.50 219.50l1.9 -2.6M453.50 225.80l1.9 -2.6M453.50 232.10l1.9 -2.6M453.50 238.40l1.9 -2.6M453.50 244.70l1.9 -2.6" stroke="#e6e6e6" stroke-width="0.7" fill="none"/>
<path d="M350.50 219.89L351.61 222.07L352.71 217.71L353.82 213.35L354.93 217.71L356.03 213.35L357.14 214.44L358.25 215.53L359.35 216.62L360.46 220.98L361.56 222.07L362.67 214.44L363.78 211.17L364.88 207.69L365.99 210.08L367.10 208.99L368.20 206.38L369.31 208.99L370.42 206.81L371.52 207.25L372.63 213.35L373.74 205.72L374.84 203.98L375.95 213.35L377.06 208.99L378.16 222.07L379.27 217.71L380.38 211.17L381.48 206.38L382.59 213.35L383.69 215.53L384.80 211.17L385.91 219.89L387.01 225.12L388.12 207.69L389.23 215.53L390.33 219.89L391.44 228.17L392.55 219.89L393.65 224.24L394.76 222.07L395.87 230.78L396.97 232.96L398.08 231.87L399.19 240.15L400.29 230.78L401.40 229.47L402.51 222.07L403.61 211.17L404.72 206.16L405.82 205.07L406.93 211.17L408.04 211.17L409.14 205.72L410.25 200.71L411.36 201.37L412.46 193.74L413.57 187.64L414.68 198.10L415.78 203.55L416.89 214.44L418.00 215.53L419.10 210.08L420.21 208.99L421.32 212.26L422.42 211.17L423.53 210.08L424.64 211.17L425.74 212.26L426.85 213.35L427.95 206.81L429.06 198.97L430.17 205.72L431.27 208.99L432.38 214.44L433.49 215.53L434.59 217.71L435.70 215.53L436.81 216.62L437.91 219.89L439.02 221.41L440.13 217.71L441.23 214.44L442.34 215.53L443.45 208.99L444.55 205.07L445.66 212.26L446.77 214.44L447.87 216.62L448.98 219.45L450.09 216.62L451.19 222.07L452.30 225.12L453.40 225.99L454.51 227.08L455.62 225.33L456.72 222.07L457.83 215.53L458.94 200.71L460.04 207.90L461.15 202.67L462.26 204.63L463.36 206.81L464.47 201.37L465.58 196.36L466.68 208.99L467.79 200.28L468.90 197.66" fill="none" stroke="#2ca02c" stroke-width="1.1" stroke-linejoin="round"/>
<path d="M350.50 208.09L351.61 203.27L352.71 202.29L353.82 202.77L354.93 208.09L356.03 207.64L357.14 210.80L358.25 205.41L359.35 205.62L360.46 199.14L361.56 200.83L362.67 205.84L363.78 205.38L364.88 200.39L365.99 203.84L367.10 203.25L368.20 208.36L369.31 204.12L370.42 207.14L371.52 205.02L372.63 206.43L373.74 203.41L374.84 201.10L375.95 197.19L377.06 195.54L378.16 192.99L379.27 200.69L380.38 204.08L381.48 204.12L382.59 203.73L383.69 200.04L384.80 193.50L385.91 188.88L387.01 193.28L388.12 201.89L389.23 197.75L390.33 196.72L391.44 193.27L392.55 193.84L393.65 188.76L394.76 188.76L395.87 182.99L396.97 183.75L398.08 182.69L399.19 183.40L400.29 181.63L401.40 187.76L402.51 185.26L403.61 183.53L404.72 183.99L405.82 191.21L406.93 195.85L408.04 200.67L409.14 203.03L410.25 203.60L411.36 208.96L412.46 208.80L413.57 205.01L414.68 208.64L415.78 206.13L416.89 210.03L418.00 208.18L419.10 212.80L420.21 205.97L421.32 205.59L422.42 205.32L423.53 206.86L424.64 204.87L425.74 207.79L426.85 207.05L427.95 207.55L429.06 207.08L430.17 207.32L431.27 205.52L432.38 204.16L433.49 202.18L434.59 202.42L435.70 201.93L436.81 205.29L437.91 201.46L439.02 195.62L440.13 196.71L441.23 204.68L442.34 199.75L443.45 193.91L444.55 185.94L445.66 196.34L446.77 196.18L447.87 195.00L448.98 191.07L450.09 191.03L451.19 188.89L452.30 186.95L453.40 184.18L454.51 186.88L455.62 182.87L456.72 189.29L457.83 194.56L458.94 197.74L460.04 199.44L461.15 200.94L462.26 199.29L463.36 199.46L464.47 199.49L465.58 201.89L466.68 203.12L467.79 203.38L468.90 199.03L468.90 223.91L467.79 228.26L466.68 226.98L465.58 227.57L464.47 223.02L463.36 224.42L462.26 221.35L461.15 221.14L460.04 219.75L458.94 218.52L457.83 217.56L456.72 218.81L455.62 215.66L454.51 217.47L453.40 217.00L452.30 219.09L451.19 218.49L450.09 220.99L448.98 220.21L447.87 221.05L446.77 221.60L445.66 222.33L444.55 221.33L443.45 225.96L442.34 222.89L441.23 226.96L440.13 223.34L439.02 225.02L437.91 224.84L436.81 227.15L435.70 222.82L434.59 222.80L433.49 222.23L432.38 223.06L431.27 226.60L430.17 240.90L429.06 233.43L427.95 230.94L426.85 226.78L425.74 230.21L424.64 227.37L423.53 230.19L422.42 223.97L421.32 221.78L420.21 223.97L419.10 226.66L418.00 231.00L416.89 236.12L415.78 229.86L414.68 229.80L413.57 230.30L412.46 237.66L411.36 235.03L410.25 219.48L409.14 219.38L408.04 221.60L406.93 220.29L405.82 222.60L404.72 218.14L403.61 218.58L402.51 217.92L401.40 218.98L400.29 214.50L399.19 218.50L398.08 213.36L396.97 216.19L395.87 215.79L394.76 218.93L393.65 217.04L392.55 223.10L391.44 221.81L390.33 226.04L389.23 225.90L388.12 228.17L387.01 225.62L385.91 225.30L384.80 224.16L383.69 223.53L382.59 221.93L381.48 226.03L380.38 224.26L379.27 223.26L378.16 222.19L377.06 223.91L375.95 224.42L374.84 226.51L373.74 224.77L372.63 227.10L371.52 227.97L370.42 231.85L369.31 234.58L368.20 237.20L367.10 232.55L365.99 232.53L364.88 234.09L363.78 239.94L362.67 232.04L361.56 227.25L360.46 225.79L359.35 227.72L358.25 228.98L357.14 231.09L356.03 226.86L354.93 229.44L353.82 229.39L352.71 232.44L351.61 227.89L350.50 228.95Z" fill="#00008b" fill-opacity="0.17"/>
<path d="M350.50 227.46L351.61 216.72L352.71 217.04L353.82 217.23L354.93 216.74L356.03 216.96L357.14 219.06L358.25 215.46L359.35 214.77L360.46 212.30L361.56 212.08L362.67 218.36L363.78 223.09L364.88 215.99L365.99 217.56L367.10 220.68L368.20 224.28L369.31 217.70L370.42 219.98L371.52 214.65L372.63 218.39L373.74 215.32L374.84 219.57L375.95 214.96L377.06 213.42L378.16 207.51L379.27 215.30L380.38 214.45L381.48 219.64L382.59 214.38L383.69 213.98L384.80 207.79L385.91 207.18L387.01 207.96L388.12 213.30L389.23 211.49L390.33 212.65L391.44 207.80L392.55 206.34L393.65 203.51L394.76 203.20L395.87 199.60L396.97 199.35L398.08 196.31L399.19 202.81L400.29 201.87L401.40 207.73L402.51 198.23L403.61 201.70L404.72 202.85L405.82 206.52L406.93 206.00L408.04 209.18L409.14 212.50L410.25 213.46L411.36 222.39L412.46 224.52L413.57 215.24L414.68 222.47L415.78 218.59L416.89 220.12L418.00 218.34L419.10 223.71L420.21 217.60L421.32 216.68L422.42 218.10L423.53 219.83L424.64 216.70L425.74 218.33L426.85 215.49L427.95 216.38L429.06 218.12L430.17 224.86L431.27 216.77L432.38 214.58L433.49 209.38L434.59 218.03L435.70 216.83L436.81 218.19L437.91 213.38L439.02 212.26L440.13 208.95L441.23 216.66L442.34 214.21L443.45 214.04L444.55 200.46L445.66 207.47L446.77 207.75L447.87 206.34L448.98 205.60L450.09 206.97L451.19 203.04L452.30 205.21L453.40 202.06L454.51 201.64L455.62 198.84L456.72 203.55L457.83 203.90L458.94 208.56L460.04 209.15L461.15 209.71L462.26 207.10L463.36 210.89L464.47 210.39L465.58 214.66L466.68 213.73L467.79 215.30L468.90 209.96" fill="none" stroke="#00008b" stroke-width="1.05" stroke-linejoin="round"/>
</g>
<path d="M350.50 183.20V243.50" stroke="#000" stroke-width="0.55" fill="none"/>
<path d="M350.50 183.50H470.00" stroke="#000" stroke-width="0.55" fill="none"/>
<path d="M350.50 243.20H470.00" stroke="#000" stroke-width="0.55" fill="none"/>
<path d="M469.80 183.20V243.50" stroke="#b4b4b8" stroke-width="1.5" fill="none"/>
<path d="M362.70 243.20v1.8" stroke="#000" stroke-width="0.5"/>
<text x="362.70" y="250.80" font-size="5" text-anchor="middle" fill="#222">2013</text>
<path d="M376.05 243.20v1.8" stroke="#000" stroke-width="0.5"/>
<text x="376.05" y="250.80" font-size="5" text-anchor="middle" fill="#222">2014</text>
<path d="M389.40 243.20v1.8" stroke="#000" stroke-width="0.5"/>
<text x="389.40" y="250.80" font-size="5" text-anchor="middle" fill="#222">2015</text>
<path d="M402.75 243.20v1.8" stroke="#000" stroke-width="0.5"/>
<text x="402.75" y="250.80" font-size="5" text-anchor="middle" fill="#222">2016</text>
<path d="M416.10 243.20v1.8" stroke="#000" stroke-width="0.5"/>
<text x="416.10" y="250.80" font-size="5" text-anchor="middle" fill="#222">2017</text>
<path d="M429.45 243.20v1.8" stroke="#000" stroke-width="0.5"/>
<text x="429.45" y="250.80" font-size="5" text-anchor="middle" fill="#222">2018</text>
<path d="M442.80 243.20v1.8" stroke="#000" stroke-width="0.5"/>
<text x="442.80" y="250.80" font-size="5" text-anchor="middle" fill="#222">2019</text>
<path d="M456.15 243.20v1.8" stroke="#000" stroke-width="0.5"/>
<text x="456.15" y="250.80" font-size="5" text-anchor="middle" fill="#222">2020</text>
<path d="M469.50 243.20v1.8" stroke="#000" stroke-width="0.5"/>
<text x="469.50" y="250.80" font-size="5" text-anchor="middle" fill="#222">2021</text>
<path d="M350.50 191.56h-2.3" stroke="#2ca02c" stroke-width="0.55"/>
<text x="346.40" y="193.36" font-size="5" text-anchor="end" fill="#2ca02c" stroke="#2ca02c" stroke-width="0.1">1</text>
<path d="M350.50 213.35h-2.3" stroke="#2ca02c" stroke-width="0.55"/>
<text x="346.40" y="215.15" font-size="5" text-anchor="end" fill="#2ca02c" stroke="#2ca02c" stroke-width="0.1">0</text>
<path d="M350.50 235.14h-2.3" stroke="#2ca02c" stroke-width="0.55"/>
<text x="346.40" y="236.94" font-size="5" text-anchor="end" fill="#2ca02c" stroke="#2ca02c" stroke-width="0.1">−1</text>
<path d="M470.00 183.50h2.3" stroke="#1a1a96" stroke-width="0.55"/>
<text x="473.80" y="185.30" font-size="5" text-anchor="start" fill="#1a1a96" stroke="#1a1a96" stroke-width="0.08">20</text>
<path d="M470.00 198.42h2.3" stroke="#1a1a96" stroke-width="0.55"/>
<text x="473.80" y="200.22" font-size="5" text-anchor="start" fill="#1a1a96" stroke="#1a1a96" stroke-width="0.08">10</text>
<path d="M470.00 213.35h2.3" stroke="#1a1a96" stroke-width="0.55"/>
<text x="473.80" y="215.15" font-size="5" text-anchor="start" fill="#1a1a96" stroke="#1a1a96" stroke-width="0.08">0</text>
<path d="M470.00 228.28h2.3" stroke="#1a1a96" stroke-width="0.55"/>
<text x="473.80" y="230.08" font-size="5" text-anchor="start" fill="#1a1a96" stroke="#1a1a96" stroke-width="0.08">−10</text>
<path d="M470.00 243.20h2.3" stroke="#1a1a96" stroke-width="0.55"/>
<text x="473.80" y="245.00" font-size="5" text-anchor="start" fill="#1a1a96" stroke="#1a1a96" stroke-width="0.08">−20</text>
<text transform="translate(487.50 213.35) rotate(-90)" font-size="5" text-anchor="middle" fill="#00008b">Downwelling PAR</text>
<text transform="translate(493.60 213.35) rotate(-90)" font-size="5" text-anchor="middle" fill="#00008b">[W m<tspan dy="-2" font-size="3.9">−2</tspan><tspan dy="2">]</tspan></text>
<text x="352.70" y="190.10" font-size="5" fill="#222">(i)</text>
<text x="409.95" y="173.40" font-size="6.1" font-weight="bold" text-anchor="middle" fill="#000" stroke="#000" stroke-width="0.15">Maritime Continent ISOP + Direct PAR</text>
<text x="409.95" y="180.30" font-size="6.1" font-weight="bold" text-anchor="middle" fill="#000" stroke="#000" stroke-width="0.15" xml:space="preserve">(r = -0.53, p =  0.00)</text>
</g>
</svg></body></html>
